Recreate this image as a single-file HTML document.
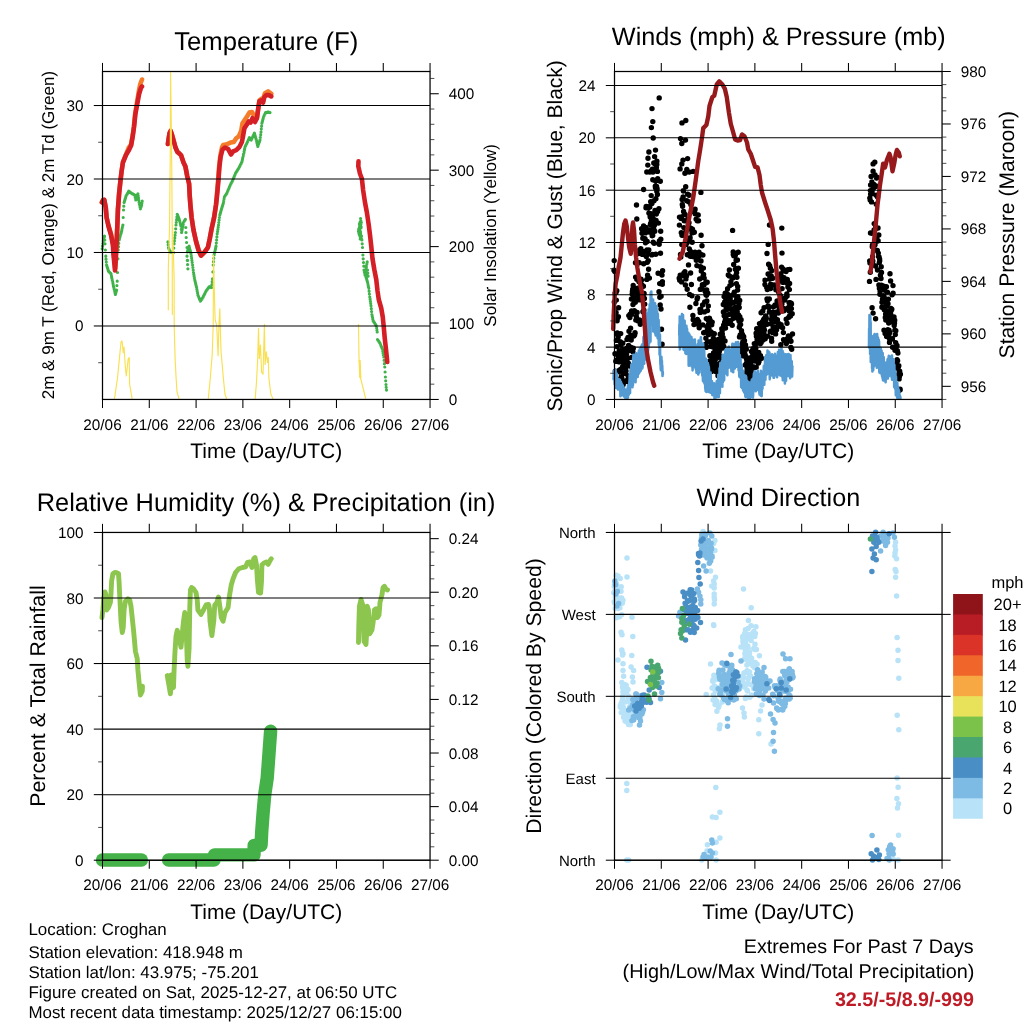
<!DOCTYPE html>
<html><head><meta charset="utf-8"><title>Croghan station</title>
<style>html,body{margin:0;padding:0;background:#fff;}svg{display:block;will-change:transform}text{font-family:"Liberation Sans",sans-serif;text-rendering:geometricPrecision;-webkit-font-smoothing:antialiased}</style>
</head><body>
<svg width="1024" height="1024" viewBox="0 0 1024 1024">
<clipPath id="c1"><rect x="102.5" y="71.5" width="327.55" height="327.95"/></clipPath>
<path d="M102.2 248.8h0M102.6 246.2h0M103.0 243.6h0M103.3 241.0h0M103.6 239.8h0M103.9 238.6h0M104.2 237.4h0M104.5 236.2h0M104.8 240.0h0M105.0 243.8h0M105.4 250.0h0M105.8 256.2h0M106.0 259.2h0M106.3 262.1h0M106.6 265.0h0M106.9 266.0h0M107.2 267.1h0M107.5 268.1h0M107.9 269.2h0M108.2 270.2h0M108.5 271.2h0M108.8 271.6h0M109.1 271.9h0M109.4 272.2h0M109.8 272.5h0M110.1 272.8h0M110.4 273.1h0M110.7 273.4h0M111.0 273.8h0M111.3 275.3h0M111.6 276.9h0M111.9 278.4h0M112.2 280.0h0M112.6 281.6h0M112.9 283.1h0M113.2 284.7h0M113.5 286.2h0M113.8 287.6h0M114.1 289.0h0M114.5 290.3h0M114.8 291.7h0M115.1 293.0h0M115.4 294.4h0M115.7 293.3h0M116.0 292.2h0M116.3 291.1h0M116.6 290.0h0M116.9 285.6h0M117.2 281.2h0M117.5 272.5h0M117.9 258.8h0M118.2 250.0h0M118.5 246.7h0M118.8 243.3h0M119.1 240.0h0M119.4 238.9h0M119.7 237.8h0M120.0 236.7h0M120.3 235.6h0M120.7 234.5h0M121.0 233.4h0M121.3 232.3h0M121.6 231.2h0M121.9 229.7h0M122.2 228.1h0M122.6 226.6h0M122.9 225.0h0M123.2 217.5h0M123.5 210.0h0M123.8 206.2h0M124.1 202.5h0M124.4 201.5h0M124.7 200.4h0M125.0 199.4h0M125.4 198.3h0M125.7 197.3h0M126.0 196.2h0M126.3 195.6h0M126.7 195.0h0M127.0 194.4h0M127.4 193.8h0M127.7 193.1h0M128.1 192.5h0M128.4 191.9h0M128.8 191.2h0M129.1 191.5h0M129.4 191.7h0M129.7 191.9h0M130.0 192.2h0M130.3 192.4h0M130.7 192.6h0M131.0 192.8h0M131.3 193.1h0M131.6 193.3h0M131.9 193.5h0M132.2 193.8h0M132.6 193.9h0M132.9 194.1h0M133.2 194.2h0M133.5 194.4h0M133.8 194.5h0M134.1 194.7h0M134.4 194.8h0M134.8 195.0h0M135.1 196.7h0M135.4 198.3h0M135.8 200.0h0M136.1 199.1h0M136.4 198.2h0M136.7 197.3h0M137.0 196.4h0M137.3 195.5h0M137.6 194.6h0M137.9 193.8h0M138.2 195.9h0M138.5 198.1h0M138.8 200.3h0M139.1 202.5h0M139.4 204.1h0M139.8 205.6h0M140.1 207.2h0M140.4 208.8h0M140.7 207.8h0M141.0 206.9h0M141.3 205.9h0M141.6 205.0h0M141.9 203.1h0M142.2 201.2h0" stroke="#3FB24A" stroke-width="3.2" stroke-linecap="round" fill="none"/>
<path d="M167.9 241.9h0M168.2 244.7h0M168.5 247.5h0M168.8 248.4h0M169.1 249.3h0M169.4 250.2h0M169.7 251.1h0M170.0 252.0h0M170.3 252.0h0M170.6 252.1h0M171.0 252.1h0M171.3 252.2h0M171.6 252.2h0M171.9 252.3h0M172.2 252.3h0M172.5 252.4h0M172.9 252.4h0M173.2 252.5h0M173.5 252.5h0M173.8 248.1h0M174.1 243.8h0M174.4 240.9h0M174.8 238.1h0M175.1 235.3h0M175.4 232.5h0M175.7 228.8h0M176.0 225.0h0M176.3 222.3h0M176.6 219.7h0M176.9 217.1h0M177.2 214.4h0M177.6 215.1h0M177.9 215.8h0M178.2 216.6h0M178.5 217.3h0M178.8 218.0h0M179.1 218.8h0M179.4 220.0h0M179.7 221.2h0M180.1 222.5h0M180.4 223.8h0M180.7 225.0h0M181.0 226.2h0M181.3 229.4h0M181.6 232.5h0M181.9 230.8h0M182.2 229.2h0M182.6 227.5h0M182.9 225.8h0M183.2 224.2h0M183.5 222.5h0M183.8 222.0h0M184.1 221.5h0M184.4 220.9h0M184.8 220.4h0M185.1 219.9h0M185.4 219.4h0M185.8 227.5h0M186.0 232.5h0M186.2 237.5h0M186.6 242.5h0M187.0 247.5h0M187.0 256.2h0M187.3 260.4h0M187.6 264.6h0M187.9 268.8h0M187.6 260.4h0M187.3 252.0h0M187.6 251.0h0M187.9 250.1h0M188.2 249.1h0M188.5 248.2h0M188.8 247.2h0M189.1 246.2h0M189.4 247.5h0M189.7 248.8h0M190.1 250.0h0M190.4 251.2h0M190.7 252.5h0M191.0 253.8h0M191.3 255.9h0M191.6 258.1h0M191.9 260.3h0M192.2 262.5h0M192.6 265.0h0M192.9 267.5h0M193.2 270.0h0M193.5 272.5h0M193.8 274.4h0M194.1 276.2h0M194.4 278.1h0M194.8 280.0h0M195.1 281.2h0M195.4 282.5h0M195.7 283.8h0M196.0 285.0h0M196.3 286.2h0M196.6 287.5h0M196.9 289.4h0M197.2 291.2h0M197.6 293.1h0M197.9 295.0h0M198.2 295.8h0M198.5 296.6h0M198.8 297.3h0M199.2 298.1h0M199.5 298.9h0M199.8 299.7h0M200.1 300.5h0M200.4 301.2h0M200.7 300.8h0M201.0 300.3h0M201.3 299.8h0M201.7 299.4h0M202.0 298.9h0M202.3 298.4h0M202.6 298.0h0M202.9 297.5h0M203.2 296.9h0M203.5 296.2h0M203.8 295.6h0M204.1 295.0h0M204.4 294.4h0M204.8 293.8h0M205.1 293.1h0M205.4 292.5h0M205.7 291.9h0M206.0 291.2h0M206.3 290.8h0M206.6 290.4h0M206.9 289.9h0M207.2 289.5h0M207.6 289.1h0M207.9 288.6h0M208.2 288.2h0M208.5 287.8h0M208.8 287.3h0M209.1 286.9h0M209.4 287.0h0M209.7 287.0h0M210.0 287.1h0M210.3 287.2h0M210.7 287.3h0M211.0 287.4h0M211.3 287.4h0M211.6 287.5h0M211.9 284.6h0M212.2 281.7h0M212.5 278.8h0M212.9 271.9h0M213.2 265.0h0M213.5 261.7h0M213.8 258.3h0M214.1 255.0h0M214.4 253.5h0M214.7 252.1h0M215.1 250.6h0M215.4 249.2h0M215.7 247.7h0M216.0 246.2h0M216.3 243.1h0M216.6 240.0h0M216.9 236.9h0M217.2 233.8h0M217.6 231.6h0M217.9 229.4h0M218.2 227.2h0M218.5 225.0h0M218.8 222.5h0M219.1 220.0h0M219.4 217.5h0M219.8 215.0h0M220.1 214.0h0M220.4 212.9h0M220.7 211.9h0M221.0 210.8h0M221.3 209.8h0M221.6 208.8h0M221.9 207.7h0M222.2 206.7h0M222.6 205.6h0M222.9 204.6h0M223.2 203.5h0M223.5 202.5h0M223.8 200.7h0M224.1 198.8h0M224.4 197.0h0M224.7 196.5h0M225.0 196.1h0M225.3 195.6h0M225.7 195.1h0M226.0 194.7h0M226.3 194.2h0M226.6 193.7h0M226.9 193.2h0M227.2 192.5h0M227.5 191.8h0M227.8 191.0h0M228.1 190.2h0M228.4 189.5h0M228.8 188.8h0M229.1 188.0h0M229.4 187.2h0M229.7 186.5h0M230.0 185.8h0M230.3 185.1h0M230.6 184.5h0M230.9 183.9h0M231.2 183.2h0M231.6 182.6h0M231.9 182.0h0M232.2 181.4h0M232.5 180.8h0M232.8 180.1h0M233.1 179.5h0M233.4 178.7h0M233.7 177.9h0M234.0 177.2h0M234.3 176.4h0M234.7 175.6h0M235.0 174.8h0M235.3 174.0h0M235.6 173.2h0M235.9 172.8h0M236.2 172.2h0M236.5 171.8h0M236.9 171.2h0M237.2 170.8h0M237.5 170.2h0M237.8 169.8h0M238.1 169.2h0M238.4 168.8h0M238.8 168.2h0M239.1 167.6h0M239.4 167.0h0M239.7 166.4h0M240.0 165.8h0M240.3 165.1h0M240.6 164.5h0M241.0 163.9h0M241.3 163.2h0M241.6 162.6h0M241.9 162.0h0M242.2 160.5h0M242.5 159.1h0M242.8 157.6h0M243.1 156.2h0M243.4 154.7h0M243.8 153.2h0M244.1 151.7h0M244.4 150.1h0M244.7 148.6h0M245.0 147.0h0M245.3 146.4h0M245.6 145.8h0M245.9 145.1h0M246.2 144.5h0M246.6 143.9h0M246.9 143.2h0M247.2 142.6h0M247.5 142.0h0M247.8 141.3h0M248.1 140.5h0M248.4 139.8h0M248.8 139.1h0M249.1 138.3h0M249.4 137.6h0M249.7 138.0h0M250.0 138.4h0M250.3 138.8h0M250.6 139.3h0M250.9 139.7h0M251.2 140.1h0M251.6 139.4h0M251.9 138.7h0M252.2 138.0h0M252.5 137.4h0M252.8 136.7h0M253.1 136.0h0M253.5 135.3h0M253.8 134.6h0M254.1 133.9h0M254.4 133.2h0M254.7 134.3h0M255.0 135.3h0M255.3 136.4h0M255.6 137.4h0M255.9 138.5h0M256.2 139.5h0M256.6 140.9h0M256.9 142.3h0M257.1 143.6h0M257.4 145.0h0M257.8 146.4h0M258.1 145.5h0M258.4 144.6h0M258.7 143.7h0M259.0 142.8h0M259.4 141.9h0M259.7 141.0h0M260.0 140.1h0M260.3 137.4h0M260.7 134.7h0M261.0 132.0h0M261.3 129.1h0M261.6 126.2h0M261.9 123.2h0M262.2 122.1h0M262.5 121.0h0M262.8 119.8h0M263.1 118.7h0M263.4 117.5h0M263.8 116.4h0M264.1 115.8h0M264.4 115.1h0M264.7 114.5h0M265.0 113.9h0M265.3 113.2h0M265.6 112.6h0M265.9 112.6h0M266.2 112.5h0M266.5 112.5h0M266.9 112.4h0M267.2 112.4h0M267.5 112.3h0M267.8 112.3h0M268.1 112.2h0M268.4 112.3h0M268.7 112.4h0M269.1 112.4h0M269.4 112.5h0M269.7 112.5h0M270.0 112.6h0" stroke="#3FB24A" stroke-width="3.2" stroke-linecap="round" fill="none"/>
<path d="M360.6 218.5h0M360.3 221.8h0M360.0 225.0h0M359.7 226.2h0M359.4 227.5h0M359.1 228.8h0M358.8 230.0h0M358.5 231.2h0M358.8 232.2h0M359.1 233.2h0M359.4 234.2h0M359.7 235.2h0M360.0 236.2h0M360.3 236.9h0M360.6 237.5h0M360.9 238.1h0M361.3 238.8h0M361.6 239.4h0M361.9 240.0h0M362.2 243.8h0M362.5 247.5h0M362.9 255.0h0M363.2 258.8h0M363.5 262.5h0M363.8 266.2h0M364.0 270.0h0M364.3 271.7h0M364.7 273.3h0M365.0 275.0h0M365.3 273.1h0M365.6 271.3h0M366.0 269.4h0M366.3 267.5h0M366.6 265.6h0M366.9 263.8h0M367.2 261.9h0M367.5 270.0h0M367.8 273.1h0M368.1 276.2h0M367.8 276.2h0M367.5 276.1h0M367.2 276.1h0M366.9 276.0h0M366.5 275.9h0M366.2 275.9h0M365.9 275.8h0M365.6 275.8h0M365.9 276.8h0M366.2 277.8h0M366.6 278.9h0M366.9 279.9h0M367.2 281.0h0M367.5 282.0h0M367.8 283.6h0M368.1 285.1h0M368.4 286.7h0M368.8 288.2h0M369.1 291.2h0M369.4 294.1h0M369.8 297.0h0M370.1 299.2h0M370.4 301.4h0M370.7 303.6h0M371.0 305.8h0M371.3 308.7h0M371.6 311.6h0M371.9 314.5h0M372.2 316.1h0M372.5 317.6h0M372.8 319.2h0M373.1 320.8h0M373.4 321.2h0M373.7 321.8h0M374.0 322.2h0M374.4 322.8h0M374.7 323.2h0M375.0 323.8h0M375.3 324.2h0M375.6 324.8h0M375.9 325.2h0M376.2 325.8h0M376.6 327.8h0M376.9 329.9h0M377.2 332.0h0M377.5 339.5h0M377.8 340.0h0M378.1 340.4h0M378.4 340.9h0M378.8 341.4h0M379.1 341.8h0M379.4 342.3h0M379.7 342.8h0M380.0 343.2h0M380.3 344.0h0M380.6 344.8h0M380.9 345.6h0M381.2 346.4h0M381.6 347.2h0M381.9 347.9h0M382.2 348.7h0M382.5 349.5h0M382.8 351.4h0M383.1 353.2h0M383.4 355.1h0M383.8 357.0h0M384.1 360.3h0M384.4 363.7h0M384.8 367.0h0M385.1 372.0h0M385.4 377.0h0M385.7 380.8h0M386.0 384.5h0M386.2 387.3h0M386.5 390.1h0" stroke="#3FB24A" stroke-width="3.2" stroke-linecap="round" fill="none"/>
<path d="M360.9 221.0h0M360.6 221.6h0M360.3 222.2h0M360.0 222.8h0M359.7 223.4h0M359.4 224.0h0M359.7 224.5h0M360.0 225.0h0M360.3 225.5h0M360.6 226.0h0M360.9 226.5h0M361.2 227.0h0M360.9 227.3h0M360.5 227.6h0M360.2 227.9h0M359.9 228.1h0M359.6 228.4h0M359.2 228.7h0M358.9 229.0h0M359.2 229.6h0M359.6 230.2h0M359.9 230.8h0M360.3 231.4h0M360.6 232.0h0M360.2 232.5h0M359.9 233.0h0M359.6 233.5h0M359.2 234.0h0M359.5 234.3h0M359.9 234.6h0M360.2 234.9h0M360.5 235.1h0M360.8 235.4h0M361.2 235.7h0M361.5 236.0h0M361.2 236.8h0M360.9 237.5h0M360.5 238.2h0M360.2 239.0h0M360.6 233.5h0M360.9 228.0h0M361.3 222.5h0M360.9 223.9h0M360.6 225.2h0M360.2 226.6h0M359.9 228.0h0" stroke="#3FB24A" stroke-width="3.2" stroke-linecap="round" fill="none"/>
<polyline points="101.90,202.30 103.20,200.00 104.30,199.90 105.75,207.50 106.60,217.50 108.50,225.50 111.00,234.00 112.90,243.00 113.80,253.00 114.70,263.00 115.20,268.50 115.80,260.00 116.20,250.00 116.60,242.50 117.25,227.50 117.90,210.00 119.10,193.75 120.40,181.25 121.60,171.25 122.90,162.50 126.00,154.50 128.75,147.60 131.00,144.50 132.70,135.25 133.90,126.50 135.10,114.00 136.90,103.00 138.70,92.00 140.30,84.00 142.00,79.50" fill="none" stroke="#F47B2A" stroke-width="4.6" stroke-linecap="round" stroke-linejoin="round" />
<polyline points="167.90,144.00 168.60,139.00 169.60,133.00 170.60,130.90 171.80,134.00 173.80,141.00 175.50,147.50 177.25,151.70 179.00,153.30 181.00,155.10 183.50,162.50 185.40,166.50 187.25,176.25 189.10,183.75 189.75,196.25 190.40,205.00 191.60,217.50 193.50,230.00 196.00,241.25 198.50,250.00 201.00,255.60 204.75,251.90 207.90,247.50 209.75,238.75 211.60,228.75 214.10,217.50 216.00,205.00 216.70,197.00 218.20,179.50 219.10,167.00 220.30,156.00 222.00,147.50 223.10,145.10 226.25,144.50 230.60,142.60 233.75,142.00 236.25,138.25 238.75,136.40 241.25,130.75 242.50,123.25 245.00,119.50 247.50,115.75 249.40,112.60 251.90,112.00 253.75,115.10 255.50,119.50 256.90,118.25 258.10,109.50 259.40,100.40 261.90,98.50 263.10,100.60 264.20,95.50 265.00,93.25 268.10,91.40 271.25,93.90" fill="none" stroke="#F47B2A" stroke-width="4.6" stroke-linecap="round" stroke-linejoin="round" />
<polyline points="101.90,202.30 103.20,200.00 104.30,199.90 105.75,207.50 106.60,217.50 108.50,226.25 111.00,235.00 112.90,245.00 113.50,255.00 114.50,265.00 115.00,270.50 115.60,262.00 116.00,252.50 116.60,242.50 117.25,227.50 117.90,210.00 119.10,193.75 120.40,181.25 121.60,171.25 122.90,162.50 126.00,155.00 129.10,149.80 131.20,145.25 132.90,135.25 134.10,126.50 135.40,114.00 137.25,104.00 139.10,94.00 141.00,87.75 142.00,86.50" fill="none" stroke="#D51F26" stroke-width="4.6" stroke-linecap="round" stroke-linejoin="round" />
<polyline points="167.90,144.00 168.60,139.00 169.60,133.00 170.60,130.90 171.60,133.50 173.50,140.25 175.50,147.50 177.25,151.70 179.00,153.30 181.00,155.10 183.50,162.50 185.40,166.50 187.25,176.25 189.10,183.75 189.75,196.25 190.40,205.00 191.60,217.50 193.50,230.00 196.00,241.25 198.50,250.00 201.00,255.60 204.75,251.90 207.90,247.50 209.75,238.75 211.60,228.75 214.10,217.50 216.00,205.00 216.90,197.00 218.50,179.50 219.40,167.00 220.60,157.00 222.50,149.50 225.00,147.60 228.10,148.90 231.00,154.50 233.10,151.40 236.25,150.10 239.40,147.00 241.90,142.00 243.10,135.75 244.40,128.25 246.90,124.50 248.75,121.40 250.60,122.60 252.50,118.25 255.00,122.00 256.90,118.25 258.10,109.50 259.40,101.40 261.90,100.10 263.10,102.60 264.40,97.00 266.25,95.10 268.75,95.10 271.25,96.40" fill="none" stroke="#D51F26" stroke-width="4.6" stroke-linecap="round" stroke-linejoin="round" />
<polyline points="358.50,161.25 358.30,166.25 360.00,173.75 361.90,178.75 363.10,190.00 365.00,202.50 366.90,212.50 368.75,225.00 370.00,235.00 371.25,246.25 372.50,258.75 374.40,270.00 376.25,279.50 377.50,290.75 378.75,299.50 381.25,308.25 382.75,317.00 383.75,327.00 384.75,338.25 386.00,349.50 386.90,358.25 387.25,362.00" fill="none" stroke="#D51F26" stroke-width="4.6" stroke-linecap="round" stroke-linejoin="round" />
<polyline points="114.50,398.60 117.50,378.00 119.40,358.60 121.00,342.00 122.00,341.00 123.30,352.70 124.00,347.00 125.30,366.40 126.30,376.00 128.20,358.60 129.20,357.60 129.60,384.00 132.10,398.60" fill="none" stroke="#F9E050" stroke-width="1.15" stroke-linecap="round" stroke-linejoin="round" />
<polyline points="168.30,309.80 168.30,270.00 169.50,228.00 170.30,150.00 170.60,72.50 171.20,120.00 171.80,170.00 172.20,225.00 172.30,314.60" fill="none" stroke="#F9E050" stroke-width="1.15" stroke-linecap="round" stroke-linejoin="round" />
<polyline points="172.50,225.00 173.30,250.00 174.10,277.00 174.20,325.00 175.10,358.60 176.10,378.00 177.00,391.80 179.00,398.60" fill="none" stroke="#F9E050" stroke-width="1.15" stroke-linecap="round" stroke-linejoin="round" />
<polyline points="208.30,398.60 210.30,378.00 212.20,354.70 213.20,325.40 213.50,255.00 214.30,290.00 215.10,319.50 216.70,325.40 218.10,355.70 219.00,323.40 219.80,308.80 221.00,350.80 223.00,374.20 224.90,393.75 226.50,398.60" fill="none" stroke="#F9E050" stroke-width="1.15" stroke-linecap="round" stroke-linejoin="round" />
<polyline points="255.20,398.60 256.50,382.00 257.70,358.60 258.50,328.30 259.30,358.60 260.50,345.00 261.60,372.30 263.00,374.20 264.40,324.40 265.10,364.50 266.30,351.80 267.50,362.50 268.30,357.60 268.90,378.10 270.80,393.75 272.80,398.60" fill="none" stroke="#F9E050" stroke-width="1.15" stroke-linecap="round" stroke-linejoin="round" />
<polyline points="358.50,324.25 359.00,358.25 360.00,367.00 360.60,378.25 363.10,388.25 365.60,398.25" fill="none" stroke="#F9E050" stroke-width="1.15" stroke-linecap="round" stroke-linejoin="round" />
<polyline points="359.6,360 360.3,378" fill="none" stroke="#F9E050" stroke-width="2.2"/>
<rect x="102.5" y="71.5" width="327.55" height="327.95" fill="none" stroke="#000" stroke-width="1.25"/>
<line x1="102.50" y1="71.50" x2="102.50" y2="62.90" stroke="#000" stroke-width="1.05"/>
<line x1="102.50" y1="399.45" x2="102.50" y2="408.05" stroke="#000" stroke-width="1.05"/>
<text x="102.50" y="429.55" font-size="15.3" text-anchor="middle" fill="#000">20/06</text>
<line x1="149.29" y1="71.50" x2="149.29" y2="62.90" stroke="#000" stroke-width="1.05"/>
<line x1="149.29" y1="399.45" x2="149.29" y2="408.05" stroke="#000" stroke-width="1.05"/>
<text x="149.29" y="429.55" font-size="15.3" text-anchor="middle" fill="#000">21/06</text>
<line x1="196.09" y1="71.50" x2="196.09" y2="62.90" stroke="#000" stroke-width="1.05"/>
<line x1="196.09" y1="399.45" x2="196.09" y2="408.05" stroke="#000" stroke-width="1.05"/>
<text x="196.09" y="429.55" font-size="15.3" text-anchor="middle" fill="#000">22/06</text>
<line x1="242.88" y1="71.50" x2="242.88" y2="62.90" stroke="#000" stroke-width="1.05"/>
<line x1="242.88" y1="399.45" x2="242.88" y2="408.05" stroke="#000" stroke-width="1.05"/>
<text x="242.88" y="429.55" font-size="15.3" text-anchor="middle" fill="#000">23/06</text>
<line x1="289.67" y1="71.50" x2="289.67" y2="62.90" stroke="#000" stroke-width="1.05"/>
<line x1="289.67" y1="399.45" x2="289.67" y2="408.05" stroke="#000" stroke-width="1.05"/>
<text x="289.67" y="429.55" font-size="15.3" text-anchor="middle" fill="#000">24/06</text>
<line x1="336.46" y1="71.50" x2="336.46" y2="62.90" stroke="#000" stroke-width="1.05"/>
<line x1="336.46" y1="399.45" x2="336.46" y2="408.05" stroke="#000" stroke-width="1.05"/>
<text x="336.46" y="429.55" font-size="15.3" text-anchor="middle" fill="#000">25/06</text>
<line x1="383.26" y1="71.50" x2="383.26" y2="62.90" stroke="#000" stroke-width="1.05"/>
<line x1="383.26" y1="399.45" x2="383.26" y2="408.05" stroke="#000" stroke-width="1.05"/>
<text x="383.26" y="429.55" font-size="15.3" text-anchor="middle" fill="#000">26/06</text>
<line x1="430.05" y1="71.50" x2="430.05" y2="62.90" stroke="#000" stroke-width="1.05"/>
<line x1="430.05" y1="399.45" x2="430.05" y2="408.05" stroke="#000" stroke-width="1.05"/>
<text x="430.05" y="429.55" font-size="15.3" text-anchor="middle" fill="#000">27/06</text>
<text x="266.27" y="458.35" font-size="21.0" text-anchor="middle" fill="#000">Time (Day/UTC)</text>
<line x1="98.20" y1="362.71" x2="102.50" y2="362.71" stroke="#222" stroke-width="0.8"/>
<line x1="98.20" y1="289.23" x2="102.50" y2="289.23" stroke="#222" stroke-width="0.8"/>
<line x1="98.20" y1="215.75" x2="102.50" y2="215.75" stroke="#222" stroke-width="0.8"/>
<line x1="98.20" y1="142.26" x2="102.50" y2="142.26" stroke="#222" stroke-width="0.8"/>
<line x1="93.80" y1="325.97" x2="102.50" y2="325.97" stroke="#000" stroke-width="1.05"/>
<line x1="102.50" y1="325.97" x2="430.05" y2="325.97" stroke="#000" stroke-width="1.05"/>
<text x="83.60" y="331.47" font-size="15.3" text-anchor="end" fill="#000">0</text>
<line x1="93.80" y1="252.49" x2="102.50" y2="252.49" stroke="#000" stroke-width="1.05"/>
<line x1="102.50" y1="252.49" x2="430.05" y2="252.49" stroke="#000" stroke-width="1.05"/>
<text x="83.60" y="257.99" font-size="15.3" text-anchor="end" fill="#000">10</text>
<line x1="93.80" y1="179.00" x2="102.50" y2="179.00" stroke="#000" stroke-width="1.05"/>
<line x1="102.50" y1="179.00" x2="430.05" y2="179.00" stroke="#000" stroke-width="1.05"/>
<text x="83.60" y="184.50" font-size="15.3" text-anchor="end" fill="#000">20</text>
<line x1="93.80" y1="105.52" x2="102.50" y2="105.52" stroke="#000" stroke-width="1.05"/>
<line x1="102.50" y1="105.52" x2="430.05" y2="105.52" stroke="#000" stroke-width="1.05"/>
<text x="83.60" y="111.02" font-size="15.3" text-anchor="end" fill="#000">30</text>
<line x1="430.05" y1="384.16" x2="434.35" y2="384.16" stroke="#222" stroke-width="0.8"/>
<line x1="430.05" y1="368.88" x2="434.35" y2="368.88" stroke="#222" stroke-width="0.8"/>
<line x1="430.05" y1="353.59" x2="434.35" y2="353.59" stroke="#222" stroke-width="0.8"/>
<line x1="430.05" y1="338.31" x2="434.35" y2="338.31" stroke="#222" stroke-width="0.8"/>
<line x1="430.05" y1="307.74" x2="434.35" y2="307.74" stroke="#222" stroke-width="0.8"/>
<line x1="430.05" y1="292.45" x2="434.35" y2="292.45" stroke="#222" stroke-width="0.8"/>
<line x1="430.05" y1="277.17" x2="434.35" y2="277.17" stroke="#222" stroke-width="0.8"/>
<line x1="430.05" y1="261.88" x2="434.35" y2="261.88" stroke="#222" stroke-width="0.8"/>
<line x1="430.05" y1="231.31" x2="434.35" y2="231.31" stroke="#222" stroke-width="0.8"/>
<line x1="430.05" y1="216.02" x2="434.35" y2="216.02" stroke="#222" stroke-width="0.8"/>
<line x1="430.05" y1="200.74" x2="434.35" y2="200.74" stroke="#222" stroke-width="0.8"/>
<line x1="430.05" y1="185.45" x2="434.35" y2="185.45" stroke="#222" stroke-width="0.8"/>
<line x1="430.05" y1="154.88" x2="434.35" y2="154.88" stroke="#222" stroke-width="0.8"/>
<line x1="430.05" y1="139.60" x2="434.35" y2="139.60" stroke="#222" stroke-width="0.8"/>
<line x1="430.05" y1="124.31" x2="434.35" y2="124.31" stroke="#222" stroke-width="0.8"/>
<line x1="430.05" y1="109.03" x2="434.35" y2="109.03" stroke="#222" stroke-width="0.8"/>
<line x1="430.05" y1="78.45" x2="434.35" y2="78.45" stroke="#222" stroke-width="0.8"/>
<line x1="430.05" y1="399.45" x2="438.75" y2="399.45" stroke="#000" stroke-width="1.05"/>
<text x="448.75" y="404.95" font-size="15.3" text-anchor="start" fill="#000">0</text>
<line x1="430.05" y1="323.02" x2="438.75" y2="323.02" stroke="#000" stroke-width="1.05"/>
<text x="448.75" y="328.52" font-size="15.3" text-anchor="start" fill="#000">100</text>
<line x1="430.05" y1="246.60" x2="438.75" y2="246.60" stroke="#000" stroke-width="1.05"/>
<text x="448.75" y="252.10" font-size="15.3" text-anchor="start" fill="#000">200</text>
<line x1="430.05" y1="170.17" x2="438.75" y2="170.17" stroke="#000" stroke-width="1.05"/>
<text x="448.75" y="175.67" font-size="15.3" text-anchor="start" fill="#000">300</text>
<line x1="430.05" y1="93.74" x2="438.75" y2="93.74" stroke="#000" stroke-width="1.05"/>
<text x="448.75" y="99.24" font-size="15.3" text-anchor="start" fill="#000">400</text>
<text x="266.27" y="50.20" font-size="25.7" text-anchor="middle" fill="#000">Temperature (F)</text>
<text x="53.80" y="235.10" font-size="17.05" text-anchor="middle" fill="#000" transform="rotate(-90 53.80 235.10)">2m &amp; 9m T (Red, Orange) &amp; 2m Td (Green)</text>
<text x="496.10" y="235.30" font-size="17.1" text-anchor="middle" fill="#000" transform="rotate(-90 496.10 235.30)">Solar Insolation (Yellow)</text>
<path d="M614.0 270.3h0M614.2 260.6h0M614.3 302.0h0M614.5 315.7h0M614.7 311.8h0M614.8 271.6h0M615.0 353.8h0M615.1 293.1h0M615.3 371.3h0M615.5 315.4h0M615.8 361.3h0M616.0 292.6h0M616.1 312.6h0M616.3 300.1h0M616.4 340.4h0M616.6 333.9h0M616.8 290.8h0M616.9 346.6h0M617.1 320.7h0M617.3 332.9h0M617.4 359.6h0M617.6 318.1h0M617.7 339.3h0M617.9 355.5h0M618.1 380.2h0M618.2 337.1h0M618.4 316.8h0M618.6 307.8h0M618.7 361.8h0M618.9 371.8h0M619.0 357.8h0M619.2 351.0h0M619.4 370.2h0M619.7 358.8h0M619.9 361.8h0M620.0 383.7h0M620.2 341.7h0M620.3 361.5h0M620.5 353.0h0M620.7 333.6h0M620.8 369.2h0M621.0 344.4h0M621.2 376.6h0M621.3 356.5h0M621.5 378.0h0M621.6 377.2h0M621.8 357.6h0M622.0 379.0h0M622.3 348.9h0M622.5 352.9h0M622.6 366.7h0M622.8 343.3h0M622.9 361.7h0M623.1 384.7h0M623.3 367.4h0M623.4 373.2h0M623.6 382.9h0M623.8 381.8h0M623.9 366.4h0M624.1 355.8h0M624.2 354.3h0M624.4 360.7h0M624.6 365.7h0M624.7 352.8h0M624.9 357.4h0M625.1 354.7h0M625.2 373.2h0M625.4 364.0h0M625.5 367.8h0M625.7 381.3h0M626.0 371.0h0M626.2 356.7h0M626.4 360.5h0M626.5 354.0h0M626.7 381.4h0M626.8 348.3h0M627.0 339.4h0M627.2 380.3h0M627.3 364.0h0M627.5 349.7h0M627.7 365.4h0M627.8 364.7h0M628.0 337.5h0M628.1 376.0h0M628.3 363.2h0M628.5 358.1h0M628.6 345.5h0M628.8 315.6h0M629.0 331.3h0M629.1 350.6h0M629.4 366.0h0M629.9 317.6h0M630.1 314.1h0M630.3 337.8h0M630.6 328.2h0M630.7 347.3h0M630.9 335.4h0M631.2 340.0h0M631.4 299.0h0M631.6 311.0h0M631.7 357.4h0M631.9 314.2h0M632.2 294.0h0M632.4 291.4h0M632.7 289.3h0M632.9 351.8h0M633.0 304.5h0M633.2 285.4h0M633.3 348.2h0M633.5 311.7h0M633.8 336.1h0M634.0 288.2h0M634.2 294.1h0M634.3 310.7h0M634.5 301.4h0M634.6 335.1h0M634.8 301.9h0M635.0 332.8h0M635.1 333.1h0M635.3 302.3h0M635.5 262.8h0M635.6 277.1h0M635.8 320.1h0M635.9 297.2h0M636.1 300.2h0M636.3 297.5h0M636.4 316.8h0M636.6 298.4h0M636.8 279.2h0M636.9 294.3h0M637.1 312.5h0M637.4 298.8h0M637.6 291.7h0M637.7 288.1h0M637.9 288.9h0M638.2 321.0h0M638.5 290.3h0M638.9 253.5h0M639.0 281.7h0M639.2 262.7h0M639.4 296.3h0M639.5 320.0h0M639.7 299.9h0M639.8 249.8h0M640.3 324.2h0M640.5 279.6h0M640.8 248.6h0M641.0 279.2h0M641.1 251.3h0M641.3 295.5h0M641.5 280.1h0M641.6 228.8h0M641.8 284.7h0M642.0 233.3h0M642.3 321.0h0M642.4 254.4h0M642.6 297.6h0M642.8 238.3h0M642.9 311.8h0M643.1 251.5h0M643.3 311.7h0M643.4 286.3h0M643.6 226.0h0M643.7 263.7h0M643.9 310.2h0M644.1 293.4h0M644.2 298.6h0M644.4 298.4h0M644.6 251.6h0M644.7 304.1h0M644.9 227.4h0M645.0 238.7h0M645.2 229.3h0M645.4 232.9h0M645.5 242.8h0M645.7 240.4h0M645.9 227.5h0M646.0 207.7h0M646.2 206.4h0M646.3 256.6h0M646.5 251.6h0M646.8 279.4h0M647.0 249.9h0M647.2 241.5h0M647.3 262.3h0M647.6 275.3h0M647.8 253.8h0M648.0 231.3h0M648.1 206.8h0M648.3 260.6h0M648.5 208.1h0M648.6 269.3h0M648.8 249.9h0M648.9 213.1h0M649.1 232.0h0M649.3 229.8h0M649.4 278.1h0M649.8 207.1h0M650.1 216.0h0M650.2 217.1h0M650.4 224.5h0M650.6 223.4h0M650.7 201.7h0M650.9 213.8h0M651.1 170.7h0M651.2 195.6h0M651.4 220.4h0M651.5 230.7h0M651.7 254.9h0M651.9 203.5h0M652.2 235.8h0M652.4 169.3h0M652.5 254.4h0M652.7 235.5h0M652.8 179.7h0M653.0 214.4h0M653.2 242.2h0M653.3 219.0h0M653.7 228.5h0M653.8 162.9h0M654.0 200.7h0M654.1 243.3h0M654.3 220.2h0M654.5 224.9h0M654.6 156.6h0M654.8 231.3h0M655.0 210.5h0M655.1 163.9h0M655.3 186.3h0M655.5 187.7h0M655.6 181.1h0M655.8 254.3h0M655.9 198.8h0M656.1 220.5h0M656.3 214.1h0M656.4 167.6h0M656.6 186.5h0M656.8 191.2h0M656.9 161.2h0M657.1 188.7h0M657.2 222.9h0M657.4 194.5h0M657.6 211.6h0M657.7 178.6h0M658.1 273.3h0M658.4 223.1h0M658.9 208.7h0M659.0 291.8h0M659.2 244.2h0M659.4 240.9h0M659.7 283.6h0M659.8 297.2h0M660.2 304.9h0M660.3 181.3h0M660.5 253.2h0M660.7 231.3h0M660.8 239.3h0M661.0 309.0h0M661.1 296.2h0M661.5 329.3h0M662.0 275.1h0M662.1 344.2h0M662.3 284.2h0M662.4 281.6h0M662.6 270.8h0M679.2 278.3h0M679.4 225.1h0M679.5 217.1h0M679.7 280.2h0M680.2 275.2h0M680.5 254.4h0M680.7 255.3h0M680.8 256.9h0M681.0 218.4h0M681.2 276.0h0M681.3 232.8h0M681.5 217.0h0M681.6 281.9h0M681.8 244.6h0M682.0 235.2h0M682.1 199.5h0M682.3 204.4h0M682.6 206.2h0M683.1 196.9h0M683.3 190.8h0M683.4 191.0h0M683.6 211.5h0M683.8 273.1h0M683.9 227.6h0M684.1 235.2h0M684.2 220.8h0M684.4 214.4h0M684.7 234.8h0M684.9 271.7h0M685.1 214.5h0M685.2 228.3h0M685.4 285.0h0M685.5 274.9h0M685.7 186.7h0M685.9 278.9h0M686.0 244.6h0M686.2 230.8h0M686.5 276.0h0M686.8 200.7h0M687.0 242.8h0M687.2 289.3h0M687.3 254.7h0M687.5 240.8h0M687.7 194.2h0M687.8 219.2h0M688.1 228.5h0M688.3 223.4h0M688.5 264.9h0M688.6 201.8h0M688.8 254.9h0M689.0 222.8h0M689.1 195.2h0M689.3 249.0h0M689.6 294.4h0M689.8 227.6h0M689.9 307.2h0M690.1 237.7h0M690.3 256.2h0M690.4 251.1h0M690.6 273.0h0M690.9 204.7h0M691.1 254.1h0M691.2 228.4h0M691.4 284.5h0M691.6 229.9h0M691.9 295.8h0M692.0 232.9h0M692.2 242.3h0M692.5 229.2h0M692.7 256.5h0M692.9 315.5h0M693.0 254.7h0M693.2 319.8h0M693.3 211.6h0M693.5 255.5h0M694.0 324.6h0M694.3 232.3h0M694.6 211.8h0M694.8 256.9h0M695.0 252.2h0M695.1 209.2h0M695.3 255.3h0M695.6 322.5h0M695.8 257.2h0M695.9 303.5h0M696.1 219.1h0M696.3 260.2h0M696.6 260.1h0M696.9 265.6h0M697.1 298.9h0M697.2 220.8h0M697.4 319.5h0M697.6 297.6h0M697.9 253.5h0M698.2 253.2h0M698.4 259.9h0M698.5 220.7h0M698.7 321.4h0M698.9 325.3h0M699.0 252.2h0M699.2 327.7h0M699.5 255.6h0M699.7 279.0h0M700.0 309.4h0M700.2 312.4h0M700.3 289.4h0M700.5 266.8h0M700.7 309.4h0M700.8 254.4h0M701.0 261.0h0M701.1 235.3h0M701.3 271.0h0M702.0 245.8h0M702.1 288.8h0M702.3 286.3h0M702.4 284.6h0M702.6 305.0h0M702.8 324.9h0M702.9 255.1h0M703.1 275.9h0M703.3 284.8h0M703.4 268.1h0M703.6 274.5h0M703.7 332.8h0M703.9 285.0h0M704.1 346.6h0M704.2 278.1h0M704.4 311.9h0M704.7 302.0h0M704.9 332.1h0M705.2 291.6h0M705.4 283.2h0M705.7 344.1h0M705.9 338.3h0M706.0 294.8h0M706.2 347.4h0M706.3 318.6h0M706.5 295.2h0M706.7 289.9h0M706.8 301.0h0M707.0 326.7h0M707.2 282.3h0M707.3 330.7h0M707.5 310.6h0M707.6 341.6h0M707.8 293.2h0M708.0 319.9h0M708.1 333.3h0M708.3 306.0h0M708.5 324.4h0M708.6 319.2h0M708.9 334.5h0M709.1 329.5h0M709.3 366.3h0M709.4 318.3h0M709.6 320.1h0M709.8 361.0h0M709.9 355.7h0M710.1 360.7h0M710.2 320.3h0M710.4 341.6h0M710.6 364.3h0M710.7 346.4h0M710.9 341.9h0M711.1 331.9h0M711.2 367.5h0M711.4 343.6h0M711.5 371.6h0M711.7 324.8h0M712.2 322.1h0M712.5 370.3h0M712.7 365.7h0M712.8 363.8h0M713.0 347.0h0M713.2 367.7h0M713.3 338.3h0M713.5 352.9h0M713.7 334.3h0M713.8 363.9h0M714.1 357.6h0M714.3 333.8h0M714.5 339.7h0M714.6 359.4h0M714.8 351.6h0M715.0 362.1h0M715.1 365.8h0M715.3 359.6h0M715.4 365.3h0M715.6 351.6h0M715.8 371.5h0M715.9 348.4h0M716.1 344.6h0M716.3 358.2h0M716.4 358.3h0M716.6 340.4h0M716.7 342.3h0M716.9 368.7h0M717.1 340.4h0M717.2 354.5h0M717.6 370.8h0M717.9 368.0h0M718.0 375.8h0M718.2 374.2h0M718.5 365.1h0M718.9 348.6h0M719.0 339.3h0M719.3 364.1h0M719.5 350.9h0M719.8 340.2h0M720.0 341.8h0M720.2 334.3h0M720.3 365.7h0M720.5 362.7h0M720.7 356.0h0M720.8 344.4h0M721.0 338.0h0M721.1 343.4h0M721.3 358.0h0M721.5 363.6h0M721.6 335.7h0M721.8 328.8h0M722.1 331.5h0M722.3 333.9h0M722.4 344.8h0M722.6 348.1h0M722.8 338.0h0M723.1 337.4h0M723.3 304.5h0M723.4 311.9h0M723.6 325.1h0M723.7 346.2h0M723.9 311.6h0M724.1 296.6h0M724.2 315.7h0M724.4 314.3h0M724.6 322.2h0M724.7 302.0h0M724.9 315.5h0M725.0 341.0h0M725.2 293.3h0M725.4 319.3h0M725.5 328.0h0M725.7 299.6h0M725.9 318.3h0M726.0 303.9h0M726.2 308.4h0M726.5 295.9h0M726.8 309.5h0M727.0 293.5h0M727.2 323.2h0M727.3 308.9h0M727.6 288.7h0M727.8 305.6h0M728.0 323.4h0M728.1 294.6h0M728.3 274.9h0M728.6 314.6h0M728.8 323.4h0M728.9 300.8h0M729.1 299.7h0M729.3 275.9h0M729.4 269.9h0M729.6 314.1h0M729.8 320.7h0M729.9 285.6h0M730.1 295.6h0M730.2 298.4h0M730.4 304.3h0M730.7 320.7h0M730.9 281.6h0M731.1 309.3h0M731.4 284.5h0M731.7 277.1h0M732.0 302.6h0M732.2 325.2h0M732.4 312.9h0M732.5 313.9h0M732.7 302.9h0M732.8 278.0h0M733.0 294.8h0M733.2 316.9h0M733.3 254.4h0M733.5 318.3h0M733.7 264.4h0M733.8 255.7h0M734.0 295.1h0M734.1 302.2h0M734.3 292.2h0M734.5 308.3h0M734.6 314.3h0M734.8 312.2h0M735.3 269.3h0M735.4 255.0h0M735.6 307.2h0M735.8 308.1h0M735.9 275.2h0M736.1 260.4h0M736.3 269.0h0M736.4 283.8h0M736.6 272.8h0M736.7 299.3h0M736.9 277.3h0M737.2 311.8h0M737.4 260.0h0M737.6 290.1h0M737.7 286.5h0M737.9 296.7h0M738.0 318.4h0M738.2 316.4h0M738.4 268.2h0M738.5 314.9h0M738.9 303.6h0M739.0 320.9h0M739.2 307.5h0M739.3 327.3h0M739.5 336.9h0M739.7 300.4h0M739.8 316.7h0M740.0 324.5h0M740.2 335.0h0M740.3 337.0h0M740.5 320.4h0M740.6 324.6h0M741.0 350.0h0M741.1 319.8h0M741.3 352.6h0M741.5 330.7h0M741.8 336.1h0M741.9 348.3h0M742.1 344.3h0M742.3 334.1h0M742.4 355.7h0M742.6 351.6h0M742.8 341.9h0M742.9 346.9h0M743.1 344.8h0M743.4 336.1h0M743.6 355.9h0M743.7 336.8h0M743.9 342.3h0M744.1 352.6h0M744.2 348.0h0M744.4 373.1h0M744.5 340.6h0M744.9 353.9h0M745.2 365.1h0M745.4 348.2h0M745.5 345.0h0M745.7 356.3h0M745.8 357.1h0M746.0 365.4h0M746.2 363.8h0M746.3 349.3h0M746.5 359.1h0M746.7 375.0h0M746.8 363.7h0M747.0 360.9h0M747.1 369.0h0M747.5 369.0h0M747.6 368.7h0M747.8 363.9h0M748.0 367.9h0M748.1 364.0h0M748.3 371.2h0M748.4 360.1h0M748.6 366.1h0M748.8 365.2h0M748.9 379.0h0M749.1 370.5h0M749.3 365.2h0M749.4 380.4h0M749.6 368.3h0M749.7 374.3h0M750.1 358.0h0M750.2 367.9h0M750.4 367.0h0M750.6 374.4h0M750.7 364.4h0M751.0 369.0h0M751.2 370.9h0M751.4 377.7h0M751.5 351.5h0M751.7 361.3h0M751.9 361.3h0M752.0 366.9h0M752.2 356.1h0M752.3 367.4h0M752.7 353.1h0M752.8 357.8h0M753.0 348.8h0M753.2 368.1h0M753.3 358.3h0M753.5 350.5h0M753.8 360.9h0M754.0 366.9h0M754.1 350.8h0M754.3 343.6h0M754.5 351.8h0M754.6 348.2h0M754.8 347.1h0M754.9 343.7h0M755.1 361.0h0M755.3 345.1h0M755.4 352.7h0M755.6 356.7h0M755.8 348.1h0M756.1 333.3h0M756.2 367.3h0M756.4 336.2h0M756.6 354.3h0M756.7 328.7h0M757.1 339.8h0M757.2 334.2h0M757.4 358.9h0M757.5 333.9h0M757.9 333.8h0M758.2 357.6h0M758.4 363.1h0M758.5 359.9h0M758.7 352.5h0M758.8 354.5h0M759.0 361.4h0M759.2 335.4h0M759.3 328.6h0M759.5 323.6h0M759.7 328.0h0M759.8 343.0h0M760.0 358.6h0M760.1 357.1h0M760.3 343.7h0M760.5 355.8h0M760.6 337.2h0M761.0 342.5h0M761.1 312.7h0M761.3 342.6h0M761.6 358.2h0M761.8 331.6h0M762.1 339.3h0M762.3 321.9h0M762.4 322.1h0M762.6 327.0h0M762.8 310.9h0M762.9 321.3h0M763.1 340.0h0M763.2 339.1h0M763.4 320.9h0M763.6 319.8h0M763.9 333.0h0M764.1 307.6h0M764.2 318.7h0M764.4 330.0h0M764.5 325.6h0M764.9 284.6h0M765.0 280.2h0M765.2 338.7h0M765.4 319.3h0M765.5 337.3h0M765.7 315.9h0M765.8 320.5h0M766.0 319.1h0M766.2 317.7h0M766.3 324.1h0M766.5 287.1h0M766.7 324.3h0M767.0 299.0h0M767.1 324.2h0M767.3 289.6h0M767.5 300.7h0M767.6 300.6h0M767.8 336.1h0M768.0 306.0h0M768.1 273.9h0M768.3 305.9h0M768.6 264.2h0M768.8 307.6h0M769.3 299.0h0M769.4 312.0h0M769.6 279.1h0M769.7 265.6h0M769.9 276.9h0M770.2 331.4h0M770.4 268.2h0M770.6 288.5h0M770.7 284.2h0M770.9 323.8h0M771.0 330.9h0M771.2 276.0h0M771.4 319.2h0M771.5 338.3h0M771.7 341.3h0M771.9 270.6h0M772.0 315.8h0M772.2 277.7h0M772.3 321.8h0M772.5 332.4h0M772.7 278.2h0M772.8 312.2h0M773.0 318.7h0M773.2 327.3h0M773.3 317.0h0M773.5 306.7h0M773.6 326.7h0M774.0 313.6h0M774.1 285.0h0M774.5 329.7h0M774.6 316.6h0M775.1 304.9h0M775.3 333.5h0M775.4 321.6h0M775.6 333.9h0M775.9 289.7h0M776.1 312.3h0M776.2 329.0h0M776.6 329.8h0M777.1 301.0h0M777.4 319.8h0M777.7 284.5h0M777.9 326.7h0M778.0 323.1h0M778.4 313.1h0M778.5 306.3h0M778.7 292.2h0M778.8 325.5h0M779.0 276.5h0M779.2 323.6h0M779.3 309.1h0M779.8 302.8h0M780.0 280.7h0M780.1 280.0h0M780.3 295.5h0M780.5 298.5h0M780.6 277.4h0M780.8 344.7h0M781.0 273.6h0M781.1 324.6h0M781.3 309.5h0M781.4 305.0h0M781.6 267.1h0M781.9 304.1h0M782.1 288.6h0M782.3 301.0h0M782.6 327.7h0M782.9 268.8h0M783.1 282.4h0M783.2 270.4h0M783.4 332.6h0M783.6 339.8h0M783.9 310.7h0M784.0 277.6h0M784.4 308.7h0M784.5 340.8h0M784.7 300.0h0M784.9 281.5h0M785.3 270.5h0M785.5 297.4h0M786.0 271.6h0M786.2 319.2h0M786.3 343.6h0M786.5 280.9h0M786.6 339.2h0M786.8 293.9h0M787.0 323.2h0M787.1 295.9h0M787.3 279.4h0M787.5 283.4h0M787.6 281.2h0M787.8 269.7h0M787.9 286.9h0M788.1 338.9h0M788.3 339.7h0M788.4 336.0h0M788.6 307.4h0M788.8 340.0h0M788.9 317.3h0M789.1 302.7h0M789.2 311.1h0M789.4 289.6h0M789.6 283.4h0M789.7 315.6h0M789.9 337.3h0M790.1 310.9h0M790.2 302.8h0M790.4 307.6h0M790.5 316.1h0M790.7 341.3h0M790.9 347.4h0M791.0 341.3h0M791.2 303.1h0M791.4 308.6h0M791.5 303.9h0M791.7 349.3h0M792.2 313.7h0M792.5 334.0h0M869.5 281.4h0M869.7 260.9h0M869.8 198.1h0M870.0 262.9h0M870.2 200.0h0M870.3 272.2h0M870.5 232.9h0M870.6 194.3h0M871.1 176.4h0M871.3 233.1h0M871.5 201.9h0M871.6 233.3h0M872.1 192.0h0M872.3 246.7h0M872.4 245.3h0M872.6 256.7h0M872.8 260.9h0M873.1 163.9h0M873.4 265.0h0M873.6 187.9h0M873.9 184.4h0M874.1 229.9h0M874.2 223.6h0M874.4 223.7h0M874.5 244.4h0M875.0 244.8h0M875.2 250.0h0M875.4 266.0h0M875.7 226.8h0M875.8 228.8h0M876.0 279.4h0M876.2 195.3h0M876.3 204.3h0M876.7 186.3h0M877.0 177.3h0M877.1 236.6h0M877.3 250.4h0M877.5 270.0h0M877.6 196.9h0M877.8 241.0h0M878.0 228.0h0M878.1 240.8h0M878.3 253.1h0M878.6 256.4h0M878.8 235.0h0M878.9 284.9h0M879.1 257.0h0M879.3 262.6h0M879.4 288.3h0M879.6 258.9h0M879.7 260.8h0M879.9 294.2h0M880.1 291.0h0M880.2 288.5h0M880.4 275.3h0M880.9 278.6h0M881.0 278.4h0M881.2 266.8h0M881.4 285.1h0M881.5 272.5h0M881.9 307.2h0M882.0 302.3h0M882.5 299.1h0M882.7 302.1h0M882.8 298.1h0M883.2 289.7h0M883.3 299.1h0M883.6 295.7h0M883.8 286.3h0M884.0 330.2h0M884.1 297.0h0M884.3 309.8h0M884.5 290.1h0M884.6 301.8h0M884.8 302.6h0M884.9 290.2h0M885.1 333.4h0M885.3 317.4h0M885.4 299.0h0M885.6 313.9h0M885.8 320.1h0M885.9 306.5h0M886.1 301.2h0M886.2 311.0h0M886.4 286.8h0M886.6 336.5h0M886.7 318.5h0M886.9 306.2h0M887.2 331.2h0M887.4 292.1h0M887.5 315.3h0M887.7 313.0h0M887.9 329.6h0M888.0 303.8h0M888.4 299.1h0M888.5 311.6h0M888.7 323.0h0M888.8 335.6h0M889.0 330.3h0M889.2 331.6h0M889.3 333.4h0M889.5 342.4h0M889.7 339.3h0M889.8 332.3h0M890.0 318.5h0M890.3 315.4h0M890.5 339.8h0M890.6 313.5h0M890.8 317.3h0M891.0 308.5h0M891.1 320.7h0M891.3 310.3h0M891.4 338.6h0M891.6 316.9h0M891.8 309.3h0M891.9 321.9h0M892.1 294.8h0M892.4 338.8h0M892.6 347.3h0M892.7 317.1h0M893.1 293.3h0M893.2 320.4h0M893.6 322.1h0M893.9 321.7h0M894.0 316.9h0M894.2 325.4h0M894.4 348.0h0M894.5 323.3h0M894.7 320.2h0M894.9 330.1h0M895.0 350.3h0M895.3 334.6h0M895.5 363.9h0M895.7 342.6h0M895.8 330.8h0M896.0 368.7h0M896.2 349.4h0M896.3 366.9h0M896.5 364.6h0M897.0 345.4h0M897.1 359.6h0M897.3 350.8h0M897.5 366.2h0M897.6 360.7h0M897.9 353.0h0M898.1 377.4h0M898.3 375.1h0M898.4 366.7h0M898.6 374.2h0M898.8 365.8h0M898.9 375.6h0M899.1 378.9h0M899.2 390.4h0M899.4 376.6h0M899.6 371.2h0M899.7 371.2h0M899.9 374.3h0M900.1 389.2h0M900.2 389.7h0M900.4 374.3h0M659.2 97.9h0M652.0 108.6h0M652.8 121.6h0M651.4 127.6h0M653.2 138.0h0M655.5 150.1h0M648.9 152.0h0M648.0 158.2h0M647.8 165.1h0M656.8 164.5h0M646.8 172.0h0M649.9 172.0h0M653.0 172.0h0M657.4 171.4h0M643.6 189.5h0M636.5 205.0h0M636.8 219.0h0M685.8 120.5h0M682.0 122.9h0M680.5 138.6h0M685.5 140.1h0M681.8 143.5h0M687.6 158.6h0M683.0 160.1h0M681.8 163.9h0M680.1 168.9h0M686.8 169.5h0M689.2 172.0h0M684.9 173.2h0M693.2 171.4h0M700.9 192.4h0M695.1 213.8h0M698.2 215.0h0M732.6 230.4h0M733.2 251.9h0M738.2 252.2h0M769.5 225.0h0M781.8 228.1h0M768.2 244.4h0M767.0 253.5h0M782.0 253.1h0M789.8 269.4h0M874.8 162.2h0M873.1 171.2h0M875.0 175.0h0M876.6 178.1h0M871.9 181.9h0M870.6 185.0h0M870.4 190.6h0M872.2 193.8h0M890.0 273.8h0M890.6 281.0h0M893.0 285.6h0M872.1 307.8h0M873.1 313.1h0M875.6 318.8h0" stroke="#000" stroke-width="5.4" stroke-linecap="round" fill="none"/>
<polyline points="613.60,379.17 613.76,372.49 613.93,379.28 614.09,373.34 614.25,370.80 614.41,372.36 614.58,370.00 614.74,384.28 614.90,379.34 615.06,374.47 615.23,376.71 615.39,375.60 615.55,369.75 615.71,386.50 615.88,381.00 616.04,387.92 616.20,378.24 616.36,382.70 616.53,375.86 616.69,373.43 616.85,388.17 617.01,387.31 617.18,378.98 617.34,388.21 617.50,387.32 617.66,379.69 617.83,384.67 617.99,389.39 618.15,382.95 618.31,389.48 618.48,379.33 618.64,381.44 618.80,386.89 618.96,379.31 619.13,380.56 619.29,389.37 619.45,383.88 619.61,389.67 619.78,380.53 619.94,379.76 620.10,383.40 620.26,381.15 620.43,396.15 620.59,383.98 620.75,389.92 620.91,382.13 621.08,389.90 621.24,387.16 621.40,387.82 621.56,383.50 621.73,384.74 621.89,395.29 622.05,388.18 622.22,386.98 622.38,386.53 622.54,387.89 622.70,387.53 622.87,385.46 623.03,393.99 623.19,389.42 623.35,387.50 623.52,394.82 623.68,387.31 623.84,389.40 624.00,396.50 624.17,388.39 624.33,391.94 624.49,396.74 624.65,396.50 624.82,389.27 624.98,391.34 625.14,395.91 625.30,391.83 625.47,398.24 625.63,390.39 625.79,398.29 625.95,393.89 626.12,390.94 626.28,393.33 626.44,390.35 626.60,396.32 626.77,390.79 626.93,398.10 627.09,394.47 627.25,390.76 627.42,388.75 627.58,394.17 627.74,387.35 627.90,397.70 628.07,385.04 628.23,391.28 628.39,391.51 628.55,385.62 628.72,394.75 628.88,385.97 629.04,391.68 629.20,389.14 629.37,381.76 629.53,382.67 629.69,375.00 629.85,375.87 630.02,393.10 630.18,377.38 630.34,387.49 630.51,369.95 630.67,383.26 630.83,375.28 630.99,379.54 631.16,371.92 631.32,364.83 631.48,370.88 631.64,367.65 631.81,364.05 631.97,383.29 632.13,367.05 632.29,370.26 632.46,387.28 632.62,382.80 632.78,385.49 632.94,384.32 633.11,358.24 633.27,362.47 633.43,354.69 633.59,377.58 633.76,376.80 633.92,363.95 634.08,365.90 634.24,375.95 634.41,377.07 634.57,359.50 634.73,381.32 634.89,362.46 635.06,373.84 635.22,356.96 635.38,355.02 635.54,382.32 635.71,376.82 635.87,376.01 636.03,353.20 636.19,353.28 636.36,356.74 636.52,357.82 636.68,360.92 636.84,363.28 637.01,353.69 637.17,361.03 637.33,372.09 637.49,357.44 637.66,376.90 637.82,369.33 637.98,373.14 638.14,358.91 638.31,363.36 638.47,370.97 638.63,359.95 638.80,350.94 638.96,373.42 639.12,371.55 639.28,356.40 639.45,349.96 639.61,372.14 639.77,365.24 639.93,348.60 640.10,352.94 640.26,349.15 640.42,368.38 640.58,350.70 640.75,370.69 640.91,366.25 641.07,346.57 641.23,364.13 641.40,353.91 641.56,364.87 641.72,366.61 641.88,349.72 642.05,344.52 642.21,368.51 642.37,352.74 642.53,367.46 642.70,361.03 642.86,361.84 643.02,363.80 643.18,357.53 643.35,350.00 643.51,336.98 643.67,358.01 643.83,346.69 644.00,349.86 644.16,363.72 644.32,333.78 644.48,357.13 644.65,328.93 644.81,353.52 644.97,356.15 645.13,329.77 645.30,341.68 645.46,359.52 645.62,343.66 645.78,338.09 645.95,321.13 646.11,312.63 646.27,325.69 646.44,328.15 646.60,318.07 646.76,322.72 646.92,314.92 647.09,343.37 647.25,341.35 647.41,318.58 647.57,318.52 647.74,332.41 647.90,327.49 648.06,350.65 648.22,321.58 648.39,318.28 648.55,347.83 648.71,309.25 648.87,331.50 649.04,316.40 649.20,343.52 649.36,328.80 649.52,340.10 649.69,304.30 649.85,334.22 650.01,329.56 650.17,317.95 650.34,338.22 650.50,341.46 650.66,292.62 650.82,300.87 650.99,304.77 651.15,297.08 651.31,291.52 651.47,302.92 651.64,300.40 651.80,324.56 651.96,313.05 652.12,300.96 652.29,308.41 652.45,314.18 652.61,309.98 652.77,303.65 652.94,301.00 653.10,299.55 653.26,331.40 653.42,324.23 653.59,302.43 653.75,323.41 653.91,331.21 654.07,319.42 654.24,304.47 654.40,316.97 654.56,315.19 654.73,307.77 654.89,320.83 655.05,303.23 655.21,333.74 655.38,325.79 655.54,325.62 655.70,335.41 655.86,326.98 656.03,312.08 656.19,312.19 656.35,309.22 656.51,306.30 656.68,332.14 656.84,334.35 657.00,315.13 657.16,311.99 657.33,328.79 657.49,335.58 657.65,338.18 657.81,314.11 657.98,334.93 658.14,337.79 658.30,337.01 658.46,323.24 658.63,319.97 658.79,344.86 658.95,326.83 659.11,329.89 659.28,340.12 659.44,334.61 659.60,354.68 659.76,336.80 659.93,334.73 660.09,353.11 660.25,357.02 660.41,364.13 660.58,362.72 660.74,368.41 660.90,370.03 661.06,360.80 661.23,362.35 661.39,356.76 661.55,360.83 661.71,367.97 661.88,360.83 662.04,371.76 662.20,365.29 662.36,369.89 662.53,376.02 662.69,371.64 662.85,374.36" fill="none" stroke="#559BD3" stroke-width="2.6" stroke-linecap="round" stroke-linejoin="round" />
<polyline points="679.25,334.92 679.41,324.53 679.58,346.47 679.74,316.57 679.90,349.37 680.06,349.20 680.23,346.08 680.39,329.19 680.55,322.67 680.71,339.26 680.88,331.94 681.04,326.08 681.20,321.87 681.36,325.43 681.53,336.39 681.69,342.57 681.85,345.61 682.01,313.97 682.18,319.57 682.34,326.32 682.50,333.29 682.66,323.26 682.83,318.18 682.99,315.08 683.15,323.92 683.31,329.88 683.48,349.49 683.64,347.72 683.80,346.57 683.96,350.02 684.13,349.80 684.29,339.38 684.45,345.75 684.61,320.86 684.78,342.68 684.94,341.04 685.10,329.77 685.26,340.91 685.43,353.15 685.59,338.08 685.75,345.32 685.91,332.77 686.08,334.57 686.24,354.05 686.40,325.88 686.56,330.90 686.73,349.31 686.89,340.35 687.05,328.89 687.21,350.49 687.38,339.06 687.54,348.96 687.70,341.84 687.87,348.10 688.03,350.32 688.19,342.67 688.35,332.82 688.52,335.52 688.68,365.58 688.84,352.88 689.00,334.22 689.17,365.81 689.33,339.91 689.49,334.50 689.65,352.93 689.82,340.60 689.98,350.70 690.14,354.46 690.30,340.47 690.47,355.54 690.63,337.18 690.79,353.06 690.95,356.53 691.12,336.82 691.28,348.29 691.44,337.03 691.60,349.84 691.77,366.40 691.93,355.53 692.09,361.65 692.25,363.10 692.42,339.55 692.58,370.33 692.74,361.86 692.90,339.73 693.07,364.69 693.23,348.87 693.39,342.18 693.55,367.34 693.72,355.56 693.88,361.77 694.04,341.78 694.20,361.26 694.37,340.04 694.53,344.61 694.69,348.63 694.85,339.52 695.02,357.46 695.18,345.08 695.34,347.85 695.50,362.58 695.67,352.61 695.83,369.10 695.99,361.49 696.16,369.96 696.32,360.40 696.48,372.67 696.64,371.93 696.81,346.32 696.97,369.13 697.13,352.40 697.29,369.55 697.46,366.48 697.62,371.28 697.78,344.13 697.94,352.59 698.11,367.77 698.27,374.55 698.43,366.88 698.59,340.54 698.76,362.15 698.92,341.91 699.08,359.50 699.24,368.81 699.41,341.71 699.57,372.51 699.73,363.79 699.89,345.86 700.06,343.54 700.22,352.85 700.38,368.80 700.54,359.23 700.71,340.03 700.87,337.21 701.03,340.50 701.19,368.76 701.36,343.81 701.52,360.26 701.68,348.42 701.84,366.88 702.01,352.89 702.17,344.23 702.33,375.65 702.49,362.56 702.66,369.83 702.82,375.11 702.98,380.85 703.14,343.53 703.31,356.47 703.47,350.11 703.63,365.85 703.79,382.04 703.96,380.26 704.12,349.64 704.28,355.66 704.45,383.39 704.61,379.05 704.77,366.35 704.93,371.03 705.10,359.05 705.26,388.39 705.42,369.27 705.58,390.94 705.75,381.59 705.91,358.92 706.07,368.52 706.23,364.70 706.40,391.91 706.56,381.04 706.72,360.38 706.88,364.79 707.05,371.51 707.21,375.82 707.37,380.97 707.53,373.28 707.70,372.44 707.86,362.98 708.02,381.38 708.18,372.74 708.35,364.95 708.51,377.13 708.67,391.99 708.83,367.09 709.00,369.83 709.16,384.33 709.32,373.50 709.48,373.87 709.65,380.12 709.81,374.57 709.97,382.98 710.13,382.28 710.30,391.73 710.46,392.66 710.62,372.65 710.78,384.69 710.95,389.45 711.11,391.64 711.27,390.16 711.43,387.76 711.60,388.15 711.76,382.15 711.92,381.05 712.09,392.13 712.25,393.74 712.41,395.09 712.57,391.12 712.74,383.72 712.90,393.19 713.06,393.13 713.22,389.19 713.39,391.98 713.55,386.63 713.71,390.94 713.87,388.14 714.04,383.36 714.20,387.62 714.36,387.71 714.52,398.25 714.69,390.86 714.85,389.26 715.01,387.86 715.17,388.08 715.34,389.37 715.50,386.05 715.66,383.86 715.82,397.45 715.99,389.81 716.15,389.30 716.31,391.86 716.47,385.90 716.64,383.20 716.80,381.03 716.96,384.61 717.12,384.17 717.29,393.28 717.45,389.13 717.61,396.89 717.77,382.43 717.94,396.27 718.10,388.38 718.26,374.69 718.42,376.15 718.59,387.14 718.75,397.01 718.91,378.73 719.07,391.46 719.24,379.77 719.40,393.48 719.56,368.24 719.72,380.08 719.89,392.87 720.05,371.71 720.21,370.42 720.38,363.05 720.54,366.19 720.70,368.50 720.86,383.76 721.03,365.50 721.19,370.75 721.35,363.70 721.51,378.07 721.68,385.83 721.84,378.50 722.00,361.08 722.16,380.23 722.33,386.66 722.49,374.64 722.65,355.02 722.81,380.53 722.98,382.06 723.14,361.74 723.30,354.88 723.46,356.18 723.63,368.92 723.79,379.74 723.95,371.94 724.11,380.19 724.28,355.47 724.44,358.71 724.60,373.83 724.76,370.38 724.93,360.50 725.09,370.79 725.25,358.01 725.41,349.93 725.58,360.33 725.74,349.66 725.90,368.10 726.06,357.56 726.23,362.85 726.39,366.63 726.55,355.20 726.71,361.23 726.88,349.09 727.04,374.36 727.20,364.45 727.36,375.18 727.53,348.81 727.69,364.90 727.85,367.62 728.01,354.62 728.18,348.11 728.34,349.28 728.50,348.54 728.67,367.04 728.83,346.43 728.99,367.58 729.15,354.76 729.32,358.91 729.48,360.21 729.64,359.12 729.80,362.34 729.97,360.73 730.13,351.38 730.29,364.84 730.45,349.46 730.62,364.14 730.78,365.61 730.94,366.00 731.10,351.09 731.27,366.02 731.43,371.29 731.59,355.66 731.75,350.45 731.92,358.74 732.08,370.61 732.24,346.75 732.40,343.74 732.57,356.80 732.73,363.26 732.89,366.60 733.05,353.28 733.22,372.18 733.38,349.47 733.54,365.82 733.70,345.65 733.87,344.01 734.03,346.47 734.19,344.53 734.35,356.91 734.52,358.71 734.68,347.09 734.84,368.39 735.00,351.58 735.17,345.86 735.33,346.40 735.49,362.48 735.65,366.65 735.82,345.60 735.98,342.40 736.14,362.53 736.30,347.08 736.47,366.70 736.63,353.97 736.79,358.05 736.96,348.96 737.12,362.24 737.28,352.63 737.44,348.82 737.61,366.84 737.77,343.17 737.93,363.57 738.09,341.94 738.26,361.95 738.42,353.14 738.58,370.32 738.74,344.69 738.91,362.65 739.07,357.11 739.23,375.17 739.39,376.70 739.56,368.32 739.72,355.09 739.88,356.84 740.04,358.09 740.21,364.36 740.37,359.08 740.53,359.23 740.69,378.28 740.86,375.75 741.02,364.69 741.18,386.96 741.34,364.27 741.51,376.90 741.67,364.55 741.83,386.93 741.99,387.92 742.16,369.88 742.32,385.53 742.48,387.69 742.64,371.77 742.81,373.57 742.97,378.72 743.13,390.58 743.29,370.79 743.46,386.16 743.62,384.26 743.78,379.78 743.94,384.52 744.11,392.20 744.27,375.03 744.43,392.81 744.59,379.52 744.76,391.19 744.92,393.28 745.08,376.87 745.25,393.90 745.41,396.78 745.57,380.74 745.73,375.71 745.90,377.86 746.06,397.08 746.22,376.97 746.38,396.09 746.55,380.45 746.71,393.17 746.87,380.48 747.03,382.08 747.20,392.63 747.36,381.28 747.52,385.66 747.68,396.79 747.85,393.63 748.01,396.36 748.17,397.87 748.33,381.91 748.50,385.14 748.66,395.31 748.82,393.82 748.98,382.99 749.15,390.75 749.31,386.18 749.47,389.47 749.63,384.39 749.80,382.86 749.96,398.57 750.12,386.66 750.28,396.96 750.45,382.89 750.61,389.36 750.77,382.45 750.93,387.59 751.10,382.54 751.26,393.38 751.42,381.32 751.58,394.30 751.75,388.61 751.91,379.63 752.07,384.28 752.23,387.70 752.40,397.23 752.56,383.20 752.72,379.91 752.88,397.56 753.05,395.65 753.21,392.18 753.37,379.77 753.54,377.31 753.70,378.89 753.86,374.27 754.02,373.35 754.19,384.72 754.35,381.10 754.51,385.68 754.67,379.30 754.84,371.25 755.00,387.81 755.16,386.56 755.32,383.42 755.49,383.17 755.65,386.08 755.81,391.29 755.97,388.76 756.14,385.29 756.30,377.32 756.46,375.39 756.62,377.15 756.79,387.77 756.95,375.90 757.11,376.03 757.27,376.90 757.44,372.36 757.60,389.52 757.76,370.61 757.92,383.43 758.09,389.97 758.25,375.96 758.41,384.87 758.57,379.18 758.74,376.67 758.90,376.14 759.06,374.82 759.22,392.17 759.39,391.47 759.55,394.39 759.71,373.91 759.87,389.69 760.04,379.36 760.20,388.37 760.36,385.67 760.52,378.53 760.69,395.59 760.85,370.89 761.01,390.40 761.18,392.89 761.34,383.57 761.50,386.10 761.66,396.08 761.83,374.75 761.99,386.85 762.15,389.76 762.31,377.43 762.48,388.53 762.64,376.82 762.80,381.28 762.96,383.44 763.13,384.56 763.29,371.37 763.45,381.39 763.61,377.72 763.78,366.17 763.94,378.33 764.10,365.73 764.26,384.77 764.43,370.56 764.59,378.11 764.75,371.12 764.91,368.25 765.08,359.90 765.24,357.15 765.40,379.82 765.56,367.94 765.73,367.17 765.89,366.95 766.05,375.09 766.21,356.88 766.38,354.93 766.54,374.09 766.70,362.57 766.86,368.52 767.03,373.01 767.19,374.19 767.35,373.15 767.51,350.51 767.68,358.51 767.84,371.08 768.00,370.34 768.16,351.56 768.33,352.27 768.49,354.82 768.65,351.63 768.81,358.11 768.98,371.70 769.14,364.35 769.30,362.00 769.47,352.52 769.63,360.93 769.79,379.13 769.95,371.87 770.12,363.75 770.28,365.20 770.44,376.23 770.60,375.64 770.77,356.14 770.93,374.30 771.09,363.14 771.25,369.67 771.42,359.75 771.58,363.99 771.74,363.07 771.90,364.44 772.07,354.24 772.23,359.04 772.39,371.42 772.55,355.09 772.72,358.18 772.88,375.41 773.04,360.62 773.20,361.92 773.37,359.53 773.53,377.74 773.69,355.48 773.85,371.98 774.02,377.74 774.18,358.03 774.34,364.05 774.50,375.45 774.67,370.59 774.83,362.16 774.99,353.82 775.15,364.02 775.32,361.69 775.48,372.26 775.64,359.57 775.80,362.47 775.97,370.11 776.13,374.08 776.29,360.51 776.45,361.27 776.62,367.65 776.78,376.30 776.94,355.83 777.10,377.15 777.27,370.79 777.43,360.04 777.59,369.32 777.76,358.58 777.92,352.02 778.08,371.31 778.24,359.52 778.41,364.50 778.57,363.08 778.73,374.40 778.89,370.73 779.06,349.84 779.22,366.00 779.38,361.09 779.54,361.01 779.71,372.86 779.87,359.66 780.03,361.82 780.19,375.42 780.36,360.81 780.52,363.01 780.68,364.35 780.84,375.20 781.01,370.70 781.17,373.31 781.33,359.97 781.49,348.03 781.66,372.21 781.82,367.58 781.98,376.01 782.14,376.52 782.31,351.19 782.47,355.20 782.63,350.97 782.79,380.16 782.96,352.89 783.12,353.02 783.28,379.34 783.44,372.30 783.61,353.56 783.77,376.48 783.93,377.34 784.09,368.65 784.26,355.65 784.42,376.35 784.58,366.51 784.74,372.61 784.91,383.54 785.07,378.62 785.23,379.68 785.39,358.00 785.56,362.79 785.72,368.78 785.88,354.27 786.05,380.67 786.21,360.47 786.37,359.98 786.53,361.09 786.70,359.46 786.86,375.89 787.02,368.00 787.18,366.52 787.35,363.30 787.51,354.18 787.67,360.10 787.83,376.04 788.00,374.55 788.16,375.90 788.32,358.72 788.48,357.44 788.65,353.97 788.81,367.65 788.97,362.15 789.13,364.96 789.30,365.94 789.46,369.45 789.62,362.28 789.78,375.33 789.95,358.22 790.11,378.28 790.27,369.02 790.43,354.99 790.60,361.44 790.76,368.53 790.92,364.20 791.08,369.71 791.25,362.04 791.41,360.85 791.57,376.06 791.73,361.49 791.90,374.10 792.06,376.44 792.22,371.09 792.38,366.36" fill="none" stroke="#559BD3" stroke-width="2.6" stroke-linecap="round" stroke-linejoin="round" />
<polyline points="869.00,346.68 869.16,328.57 869.33,347.63 869.49,314.93 869.65,330.18 869.81,342.03 869.98,315.18 870.14,353.88 870.30,316.49 870.46,344.06 870.63,322.29 870.79,361.90 870.95,348.25 871.11,360.25 871.28,349.66 871.44,358.18 871.60,359.05 871.76,342.39 871.93,339.57 872.09,367.96 872.25,337.72 872.41,371.41 872.58,340.14 872.74,336.31 872.90,336.22 873.06,364.68 873.23,369.93 873.39,348.03 873.55,358.95 873.71,342.05 873.88,366.38 874.04,358.70 874.20,338.05 874.36,334.86 874.53,358.03 874.69,334.10 874.85,362.63 875.01,341.83 875.18,339.68 875.34,353.85 875.50,342.41 875.66,352.92 875.83,336.60 875.99,365.32 876.15,342.23 876.31,363.12 876.48,336.59 876.64,361.94 876.80,367.81 876.96,345.73 877.13,334.05 877.29,345.76 877.45,357.15 877.62,340.93 877.78,354.09 877.94,337.50 878.10,350.61 878.27,361.74 878.43,349.82 878.59,360.72 878.75,339.77 878.92,366.36 879.08,341.45 879.24,369.97 879.40,372.40 879.57,371.13 879.73,358.36 879.89,350.01 880.05,352.45 880.22,367.35 880.38,359.10 880.54,373.23 880.70,347.82 880.87,360.15 881.03,372.76 881.19,365.59 881.35,364.13 881.52,350.49 881.68,352.36 881.84,356.41 882.00,376.05 882.17,375.26 882.33,356.82 882.49,378.10 882.65,353.02 882.82,370.22 882.98,380.21 883.14,362.57 883.30,380.38 883.47,373.63 883.63,357.05 883.79,364.50 883.95,368.31 884.12,363.49 884.28,377.96 884.44,363.08 884.60,379.84 884.77,367.01 884.93,362.55 885.09,375.57 885.25,364.36 885.42,376.31 885.58,382.28 885.74,377.96 885.91,373.51 886.07,362.66 886.23,374.46 886.39,362.74 886.56,377.00 886.72,362.21 886.88,373.82 887.04,366.13 887.21,366.04 887.37,374.07 887.53,359.66 887.69,359.13 887.86,378.47 888.02,361.64 888.18,375.27 888.34,375.96 888.51,365.45 888.67,357.03 888.83,355.82 888.99,376.09 889.16,356.33 889.32,366.05 889.48,367.58 889.64,356.34 889.81,365.04 889.97,357.37 890.13,367.61 890.29,366.69 890.46,362.45 890.62,358.55 890.78,363.57 890.94,358.89 891.11,357.34 891.27,359.92 891.43,376.49 891.59,367.46 891.76,377.72 891.92,355.67 892.08,379.71 892.24,367.97 892.41,377.02 892.57,371.56 892.73,375.19 892.89,361.62 893.06,377.50 893.22,360.60 893.38,364.25 893.54,359.37 893.71,369.51 893.87,374.87 894.03,368.41 894.20,386.87 894.36,364.91 894.52,380.32 894.68,370.32 894.85,382.53 895.01,388.50 895.17,387.30 895.33,370.95 895.50,376.40 895.66,386.85 895.82,395.23 895.98,376.83 896.15,389.73 896.31,391.73 896.47,394.18 896.63,385.65 896.80,394.94 896.96,388.94 897.12,397.35 897.28,383.08 897.45,398.38 897.61,390.03 897.77,390.33 897.93,386.57 898.10,389.00 898.26,396.13 898.42,395.63 898.58,389.56 898.75,391.95 898.91,390.59 899.07,391.61 899.23,392.30 899.40,393.59 899.56,398.44 899.72,398.50 899.88,397.52 900.05,396.08 900.21,396.51 900.37,397.71 900.53,398.05" fill="none" stroke="#559BD3" stroke-width="2.6" stroke-linecap="round" stroke-linejoin="round" />
<polyline points="613.20,329.00 613.80,312.00 614.60,297.00 615.60,284.00 617.40,275.00 618.60,267.50 620.50,257.50 621.75,245.00 623.00,232.50 624.25,223.75 625.50,220.60 626.75,226.25 628.00,237.50 629.25,247.50 630.75,253.75 631.75,240.00 632.40,226.25 633.00,222.50 634.00,230.00 634.90,245.00 636.10,257.50 637.40,268.00 639.25,279.00 640.50,286.00 641.75,291.00 643.60,309.50 644.90,328.25 646.10,347.00 648.00,359.50 650.50,372.00 653.00,382.00 654.25,385.75" fill="none" stroke="#96191C" stroke-width="4.4" stroke-linecap="round" stroke-linejoin="round" />
<polyline points="679.50,258.75 681.00,255.00 682.60,252.50 685.75,237.50 688.25,222.50 690.75,210.00 693.25,197.50 695.75,180.00 698.25,161.25 700.10,150.00 702.00,137.50 703.25,128.10 706.40,125.00 708.25,116.50 709.50,106.00 710.75,102.00 712.40,97.00 714.25,95.75 716.75,84.50 719.25,81.40 722.40,84.50 724.90,88.90 726.75,97.00 728.90,112.50 730.75,123.75 733.25,132.50 735.10,139.40 737.60,140.60 740.10,140.00 742.00,134.40 744.50,136.25 747.00,142.50 748.25,149.40 750.75,153.75 753.25,161.25 755.10,166.90 757.60,167.50 759.50,175.00 760.75,185.00 762.00,192.50 765.10,202.50 767.60,210.00 770.75,220.00 772.60,228.75 773.90,240.00 775.10,255.00 776.40,270.00 778.25,287.50 780.10,301.25 782.00,311.90" fill="none" stroke="#96191C" stroke-width="4.4" stroke-linecap="round" stroke-linejoin="round" />
<polyline points="870.40,271.90 871.90,262.50 873.10,250.00 874.40,237.50 875.60,226.25 877.50,205.00 880.00,185.00 881.90,172.50 883.10,163.75 885.00,167.50 886.90,160.00 889.40,153.75 890.60,157.50 892.50,171.25 894.40,162.50 895.60,155.00 896.90,150.00 898.75,152.50 899.75,156.25" fill="none" stroke="#96191C" stroke-width="4.4" stroke-linecap="round" stroke-linejoin="round" />
<rect x="614.5" y="71.5" width="327.54999999999995" height="327.95" fill="none" stroke="#000" stroke-width="1.25"/>
<line x1="614.50" y1="71.50" x2="614.50" y2="62.90" stroke="#000" stroke-width="1.05"/>
<line x1="614.50" y1="399.45" x2="614.50" y2="408.05" stroke="#000" stroke-width="1.05"/>
<text x="614.50" y="429.55" font-size="15.3" text-anchor="middle" fill="#000">20/06</text>
<line x1="661.29" y1="71.50" x2="661.29" y2="62.90" stroke="#000" stroke-width="1.05"/>
<line x1="661.29" y1="399.45" x2="661.29" y2="408.05" stroke="#000" stroke-width="1.05"/>
<text x="661.29" y="429.55" font-size="15.3" text-anchor="middle" fill="#000">21/06</text>
<line x1="708.09" y1="71.50" x2="708.09" y2="62.90" stroke="#000" stroke-width="1.05"/>
<line x1="708.09" y1="399.45" x2="708.09" y2="408.05" stroke="#000" stroke-width="1.05"/>
<text x="708.09" y="429.55" font-size="15.3" text-anchor="middle" fill="#000">22/06</text>
<line x1="754.88" y1="71.50" x2="754.88" y2="62.90" stroke="#000" stroke-width="1.05"/>
<line x1="754.88" y1="399.45" x2="754.88" y2="408.05" stroke="#000" stroke-width="1.05"/>
<text x="754.88" y="429.55" font-size="15.3" text-anchor="middle" fill="#000">23/06</text>
<line x1="801.67" y1="71.50" x2="801.67" y2="62.90" stroke="#000" stroke-width="1.05"/>
<line x1="801.67" y1="399.45" x2="801.67" y2="408.05" stroke="#000" stroke-width="1.05"/>
<text x="801.67" y="429.55" font-size="15.3" text-anchor="middle" fill="#000">24/06</text>
<line x1="848.46" y1="71.50" x2="848.46" y2="62.90" stroke="#000" stroke-width="1.05"/>
<line x1="848.46" y1="399.45" x2="848.46" y2="408.05" stroke="#000" stroke-width="1.05"/>
<text x="848.46" y="429.55" font-size="15.3" text-anchor="middle" fill="#000">25/06</text>
<line x1="895.26" y1="71.50" x2="895.26" y2="62.90" stroke="#000" stroke-width="1.05"/>
<line x1="895.26" y1="399.45" x2="895.26" y2="408.05" stroke="#000" stroke-width="1.05"/>
<text x="895.26" y="429.55" font-size="15.3" text-anchor="middle" fill="#000">26/06</text>
<line x1="942.05" y1="71.50" x2="942.05" y2="62.90" stroke="#000" stroke-width="1.05"/>
<line x1="942.05" y1="399.45" x2="942.05" y2="408.05" stroke="#000" stroke-width="1.05"/>
<text x="942.05" y="429.55" font-size="15.3" text-anchor="middle" fill="#000">27/06</text>
<text x="778.27" y="458.35" font-size="21.0" text-anchor="middle" fill="#000">Time (Day/UTC)</text>
<line x1="610.20" y1="373.29" x2="614.50" y2="373.29" stroke="#222" stroke-width="0.8"/>
<line x1="610.20" y1="320.96" x2="614.50" y2="320.96" stroke="#222" stroke-width="0.8"/>
<line x1="610.20" y1="268.64" x2="614.50" y2="268.64" stroke="#222" stroke-width="0.8"/>
<line x1="610.20" y1="216.31" x2="614.50" y2="216.31" stroke="#222" stroke-width="0.8"/>
<line x1="610.20" y1="163.99" x2="614.50" y2="163.99" stroke="#222" stroke-width="0.8"/>
<line x1="610.20" y1="111.66" x2="614.50" y2="111.66" stroke="#222" stroke-width="0.8"/>
<line x1="605.80" y1="399.45" x2="614.50" y2="399.45" stroke="#000" stroke-width="1.05"/>
<line x1="614.50" y1="399.45" x2="942.05" y2="399.45" stroke="#000" stroke-width="1.05"/>
<text x="595.60" y="404.95" font-size="15.3" text-anchor="end" fill="#000">0</text>
<line x1="605.80" y1="347.12" x2="614.50" y2="347.12" stroke="#000" stroke-width="1.05"/>
<line x1="614.50" y1="347.12" x2="942.05" y2="347.12" stroke="#000" stroke-width="1.05"/>
<text x="595.60" y="352.62" font-size="15.3" text-anchor="end" fill="#000">4</text>
<line x1="605.80" y1="294.80" x2="614.50" y2="294.80" stroke="#000" stroke-width="1.05"/>
<line x1="614.50" y1="294.80" x2="942.05" y2="294.80" stroke="#000" stroke-width="1.05"/>
<text x="595.60" y="300.30" font-size="15.3" text-anchor="end" fill="#000">8</text>
<line x1="605.80" y1="242.47" x2="614.50" y2="242.47" stroke="#000" stroke-width="1.05"/>
<line x1="614.50" y1="242.47" x2="942.05" y2="242.47" stroke="#000" stroke-width="1.05"/>
<text x="595.60" y="247.97" font-size="15.3" text-anchor="end" fill="#000">12</text>
<line x1="605.80" y1="190.15" x2="614.50" y2="190.15" stroke="#000" stroke-width="1.05"/>
<line x1="614.50" y1="190.15" x2="942.05" y2="190.15" stroke="#000" stroke-width="1.05"/>
<text x="595.60" y="195.65" font-size="15.3" text-anchor="end" fill="#000">16</text>
<line x1="605.80" y1="137.82" x2="614.50" y2="137.82" stroke="#000" stroke-width="1.05"/>
<line x1="614.50" y1="137.82" x2="942.05" y2="137.82" stroke="#000" stroke-width="1.05"/>
<text x="595.60" y="143.32" font-size="15.3" text-anchor="end" fill="#000">20</text>
<line x1="605.80" y1="85.50" x2="614.50" y2="85.50" stroke="#000" stroke-width="1.05"/>
<line x1="614.50" y1="85.50" x2="942.05" y2="85.50" stroke="#000" stroke-width="1.05"/>
<text x="595.60" y="91.00" font-size="15.3" text-anchor="end" fill="#000">24</text>
<line x1="942.05" y1="399.45" x2="946.35" y2="399.45" stroke="#222" stroke-width="0.8"/>
<line x1="942.05" y1="373.21" x2="946.35" y2="373.21" stroke="#222" stroke-width="0.8"/>
<line x1="942.05" y1="360.10" x2="946.35" y2="360.10" stroke="#222" stroke-width="0.8"/>
<line x1="942.05" y1="346.98" x2="946.35" y2="346.98" stroke="#222" stroke-width="0.8"/>
<line x1="942.05" y1="320.74" x2="946.35" y2="320.74" stroke="#222" stroke-width="0.8"/>
<line x1="942.05" y1="307.62" x2="946.35" y2="307.62" stroke="#222" stroke-width="0.8"/>
<line x1="942.05" y1="294.51" x2="946.35" y2="294.51" stroke="#222" stroke-width="0.8"/>
<line x1="942.05" y1="268.27" x2="946.35" y2="268.27" stroke="#222" stroke-width="0.8"/>
<line x1="942.05" y1="255.15" x2="946.35" y2="255.15" stroke="#222" stroke-width="0.8"/>
<line x1="942.05" y1="242.03" x2="946.35" y2="242.03" stroke="#222" stroke-width="0.8"/>
<line x1="942.05" y1="215.80" x2="946.35" y2="215.80" stroke="#222" stroke-width="0.8"/>
<line x1="942.05" y1="202.68" x2="946.35" y2="202.68" stroke="#222" stroke-width="0.8"/>
<line x1="942.05" y1="189.56" x2="946.35" y2="189.56" stroke="#222" stroke-width="0.8"/>
<line x1="942.05" y1="163.33" x2="946.35" y2="163.33" stroke="#222" stroke-width="0.8"/>
<line x1="942.05" y1="150.21" x2="946.35" y2="150.21" stroke="#222" stroke-width="0.8"/>
<line x1="942.05" y1="137.09" x2="946.35" y2="137.09" stroke="#222" stroke-width="0.8"/>
<line x1="942.05" y1="110.85" x2="946.35" y2="110.85" stroke="#222" stroke-width="0.8"/>
<line x1="942.05" y1="97.74" x2="946.35" y2="97.74" stroke="#222" stroke-width="0.8"/>
<line x1="942.05" y1="84.62" x2="946.35" y2="84.62" stroke="#222" stroke-width="0.8"/>
<line x1="942.05" y1="386.33" x2="950.75" y2="386.33" stroke="#000" stroke-width="1.05"/>
<text x="960.75" y="391.83" font-size="15.3" text-anchor="start" fill="#000">956</text>
<line x1="942.05" y1="333.86" x2="950.75" y2="333.86" stroke="#000" stroke-width="1.05"/>
<text x="960.75" y="339.36" font-size="15.3" text-anchor="start" fill="#000">960</text>
<line x1="942.05" y1="281.39" x2="950.75" y2="281.39" stroke="#000" stroke-width="1.05"/>
<text x="960.75" y="286.89" font-size="15.3" text-anchor="start" fill="#000">964</text>
<line x1="942.05" y1="228.92" x2="950.75" y2="228.92" stroke="#000" stroke-width="1.05"/>
<text x="960.75" y="234.42" font-size="15.3" text-anchor="start" fill="#000">968</text>
<line x1="942.05" y1="176.44" x2="950.75" y2="176.44" stroke="#000" stroke-width="1.05"/>
<text x="960.75" y="181.94" font-size="15.3" text-anchor="start" fill="#000">972</text>
<line x1="942.05" y1="123.97" x2="950.75" y2="123.97" stroke="#000" stroke-width="1.05"/>
<text x="960.75" y="129.47" font-size="15.3" text-anchor="start" fill="#000">976</text>
<line x1="942.05" y1="71.50" x2="950.75" y2="71.50" stroke="#000" stroke-width="1.05"/>
<text x="960.75" y="77.00" font-size="15.3" text-anchor="start" fill="#000">980</text>
<text x="778.77" y="45.00" font-size="25.25" text-anchor="middle" fill="#000">Winds (mph) &amp; Pressure (mb)</text>
<text x="562.20" y="235.80" font-size="21.0" text-anchor="middle" fill="#000" transform="rotate(-90 562.20 235.80)">Sonic/Prop Wind &amp; Gust (Blue, Black)</text>
<text x="1013.90" y="234.70" font-size="21.1" text-anchor="middle" fill="#000" transform="rotate(-90 1013.90 234.70)">Station Pressure (Maroon)</text>
<polyline points="102.50,860.00 141.40,860.00" fill="none" stroke="#44B248" stroke-width="13.4" stroke-linecap="round" stroke-linejoin="round" />
<polyline points="168.60,860.00 214.00,860.00 214.50,854.90 254.00,854.90 254.20,845.40 261.00,845.40 261.10,844.40 261.75,831.20 263.10,812.90 264.75,794.60 267.20,778.00 268.90,754.80 270.60,731.20" fill="none" stroke="#44B248" stroke-width="13.4" stroke-linecap="round" stroke-linejoin="round" />
<polyline points="102.00,617.50 102.90,610.00 103.75,598.75 105.00,591.90 106.00,595.00 106.60,610.00 108.50,607.50 110.40,602.50 111.00,593.75 111.60,581.25 112.90,573.75 114.75,572.50 116.60,572.75 118.50,573.75 119.10,582.50 119.75,596.25 120.40,608.75 121.00,621.25 122.25,632.50 123.25,627.50 124.10,610.00 125.40,601.25 127.90,598.75 129.75,600.00 131.00,606.25 132.25,618.00 133.50,630.00 134.10,636.25 135.40,651.25 137.25,658.75 137.90,670.00 139.10,682.50 140.40,695.00 142.25,691.25 142.50,686.25" fill="none" stroke="#8DC64F" stroke-width="4.9" stroke-linecap="round" stroke-linejoin="round" />
<polyline points="167.25,675.60 168.50,682.50 170.40,693.75 171.60,682.50 171.00,675.00 173.50,687.50 174.10,670.00 175.00,651.25 176.00,636.25 177.25,630.30 179.10,637.00 181.00,647.20 182.25,634.00 183.50,621.25 184.75,612.50 186.00,620.00 186.60,642.00 187.25,660.00 187.90,666.25 189.10,648.00 189.75,608.75 190.40,590.00 191.60,587.50 193.50,588.75 196.00,592.50 197.25,600.00 197.90,610.00 201.00,614.40 203.50,610.00 206.00,605.00 208.50,604.40 209.40,608.00 210.00,621.25 211.90,635.60 213.75,621.25 214.75,605.00 216.90,602.50 218.50,597.00 220.00,607.50 221.25,617.50 223.10,621.25 225.00,612.50 228.10,607.50 229.40,596.25 231.25,585.00 233.10,578.75 235.60,572.50 238.75,568.75 242.50,567.50 245.60,566.90 247.50,562.50 250.00,561.90 251.90,567.50 253.75,558.75 255.00,557.50 256.50,565.00 257.50,581.25 258.50,592.50 260.60,593.10 261.50,581.25 261.90,565.00 263.75,563.10 266.25,561.90 268.10,564.40 270.00,560.60 271.25,558.75" fill="none" stroke="#8DC64F" stroke-width="4.9" stroke-linecap="round" stroke-linejoin="round" />
<polyline points="358.50,642.50 358.75,627.50 359.40,606.25 361.00,599.40 362.75,605.00 363.50,627.50 364.00,641.25 366.00,644.40 366.90,627.50 367.25,606.25 368.50,610.00 369.00,627.50 369.75,633.75 371.90,630.00 373.10,622.50 374.40,610.00 376.00,608.75 377.50,617.50 379.00,615.00 380.00,602.50 381.90,595.00 383.10,587.50 384.40,586.25 386.25,589.40 387.50,590.00" fill="none" stroke="#8DC64F" stroke-width="4.9" stroke-linecap="round" stroke-linejoin="round" />
<rect x="102.5" y="532.45" width="327.55" height="327.75" fill="none" stroke="#000" stroke-width="1.25"/>
<line x1="102.50" y1="532.45" x2="102.50" y2="523.85" stroke="#000" stroke-width="1.05"/>
<line x1="102.50" y1="860.20" x2="102.50" y2="868.80" stroke="#000" stroke-width="1.05"/>
<text x="102.50" y="890.30" font-size="15.3" text-anchor="middle" fill="#000">20/06</text>
<line x1="149.29" y1="532.45" x2="149.29" y2="523.85" stroke="#000" stroke-width="1.05"/>
<line x1="149.29" y1="860.20" x2="149.29" y2="868.80" stroke="#000" stroke-width="1.05"/>
<text x="149.29" y="890.30" font-size="15.3" text-anchor="middle" fill="#000">21/06</text>
<line x1="196.09" y1="532.45" x2="196.09" y2="523.85" stroke="#000" stroke-width="1.05"/>
<line x1="196.09" y1="860.20" x2="196.09" y2="868.80" stroke="#000" stroke-width="1.05"/>
<text x="196.09" y="890.30" font-size="15.3" text-anchor="middle" fill="#000">22/06</text>
<line x1="242.88" y1="532.45" x2="242.88" y2="523.85" stroke="#000" stroke-width="1.05"/>
<line x1="242.88" y1="860.20" x2="242.88" y2="868.80" stroke="#000" stroke-width="1.05"/>
<text x="242.88" y="890.30" font-size="15.3" text-anchor="middle" fill="#000">23/06</text>
<line x1="289.67" y1="532.45" x2="289.67" y2="523.85" stroke="#000" stroke-width="1.05"/>
<line x1="289.67" y1="860.20" x2="289.67" y2="868.80" stroke="#000" stroke-width="1.05"/>
<text x="289.67" y="890.30" font-size="15.3" text-anchor="middle" fill="#000">24/06</text>
<line x1="336.46" y1="532.45" x2="336.46" y2="523.85" stroke="#000" stroke-width="1.05"/>
<line x1="336.46" y1="860.20" x2="336.46" y2="868.80" stroke="#000" stroke-width="1.05"/>
<text x="336.46" y="890.30" font-size="15.3" text-anchor="middle" fill="#000">25/06</text>
<line x1="383.26" y1="532.45" x2="383.26" y2="523.85" stroke="#000" stroke-width="1.05"/>
<line x1="383.26" y1="860.20" x2="383.26" y2="868.80" stroke="#000" stroke-width="1.05"/>
<text x="383.26" y="890.30" font-size="15.3" text-anchor="middle" fill="#000">26/06</text>
<line x1="430.05" y1="532.45" x2="430.05" y2="523.85" stroke="#000" stroke-width="1.05"/>
<line x1="430.05" y1="860.20" x2="430.05" y2="868.80" stroke="#000" stroke-width="1.05"/>
<text x="430.05" y="890.30" font-size="15.3" text-anchor="middle" fill="#000">27/06</text>
<text x="266.27" y="919.10" font-size="21.0" text-anchor="middle" fill="#000">Time (Day/UTC)</text>
<line x1="98.20" y1="827.43" x2="102.50" y2="827.43" stroke="#222" stroke-width="0.8"/>
<line x1="98.20" y1="761.88" x2="102.50" y2="761.88" stroke="#222" stroke-width="0.8"/>
<line x1="98.20" y1="696.33" x2="102.50" y2="696.33" stroke="#222" stroke-width="0.8"/>
<line x1="98.20" y1="630.78" x2="102.50" y2="630.78" stroke="#222" stroke-width="0.8"/>
<line x1="98.20" y1="565.23" x2="102.50" y2="565.23" stroke="#222" stroke-width="0.8"/>
<line x1="93.80" y1="860.20" x2="102.50" y2="860.20" stroke="#000" stroke-width="1.05"/>
<line x1="102.50" y1="860.20" x2="430.05" y2="860.20" stroke="#000" stroke-width="1.05"/>
<text x="83.60" y="865.70" font-size="15.3" text-anchor="end" fill="#000">0</text>
<line x1="93.80" y1="794.65" x2="102.50" y2="794.65" stroke="#000" stroke-width="1.05"/>
<line x1="102.50" y1="794.65" x2="430.05" y2="794.65" stroke="#000" stroke-width="1.05"/>
<text x="83.60" y="800.15" font-size="15.3" text-anchor="end" fill="#000">20</text>
<line x1="93.80" y1="729.10" x2="102.50" y2="729.10" stroke="#000" stroke-width="1.05"/>
<line x1="102.50" y1="729.10" x2="430.05" y2="729.10" stroke="#000" stroke-width="1.05"/>
<text x="83.60" y="734.60" font-size="15.3" text-anchor="end" fill="#000">40</text>
<line x1="93.80" y1="663.55" x2="102.50" y2="663.55" stroke="#000" stroke-width="1.05"/>
<line x1="102.50" y1="663.55" x2="430.05" y2="663.55" stroke="#000" stroke-width="1.05"/>
<text x="83.60" y="669.05" font-size="15.3" text-anchor="end" fill="#000">60</text>
<line x1="93.80" y1="598.00" x2="102.50" y2="598.00" stroke="#000" stroke-width="1.05"/>
<line x1="102.50" y1="598.00" x2="430.05" y2="598.00" stroke="#000" stroke-width="1.05"/>
<text x="83.60" y="603.50" font-size="15.3" text-anchor="end" fill="#000">80</text>
<line x1="93.80" y1="532.45" x2="102.50" y2="532.45" stroke="#000" stroke-width="1.05"/>
<line x1="102.50" y1="532.45" x2="430.05" y2="532.45" stroke="#000" stroke-width="1.05"/>
<text x="83.60" y="537.95" font-size="15.3" text-anchor="end" fill="#000">100</text>
<line x1="430.05" y1="846.80" x2="434.35" y2="846.80" stroke="#222" stroke-width="0.8"/>
<line x1="430.05" y1="833.40" x2="434.35" y2="833.40" stroke="#222" stroke-width="0.8"/>
<line x1="430.05" y1="820.01" x2="434.35" y2="820.01" stroke="#222" stroke-width="0.8"/>
<line x1="430.05" y1="793.21" x2="434.35" y2="793.21" stroke="#222" stroke-width="0.8"/>
<line x1="430.05" y1="779.81" x2="434.35" y2="779.81" stroke="#222" stroke-width="0.8"/>
<line x1="430.05" y1="766.42" x2="434.35" y2="766.42" stroke="#222" stroke-width="0.8"/>
<line x1="430.05" y1="739.62" x2="434.35" y2="739.62" stroke="#222" stroke-width="0.8"/>
<line x1="430.05" y1="726.22" x2="434.35" y2="726.22" stroke="#222" stroke-width="0.8"/>
<line x1="430.05" y1="712.82" x2="434.35" y2="712.82" stroke="#222" stroke-width="0.8"/>
<line x1="430.05" y1="686.03" x2="434.35" y2="686.03" stroke="#222" stroke-width="0.8"/>
<line x1="430.05" y1="672.63" x2="434.35" y2="672.63" stroke="#222" stroke-width="0.8"/>
<line x1="430.05" y1="659.23" x2="434.35" y2="659.23" stroke="#222" stroke-width="0.8"/>
<line x1="430.05" y1="632.44" x2="434.35" y2="632.44" stroke="#222" stroke-width="0.8"/>
<line x1="430.05" y1="619.04" x2="434.35" y2="619.04" stroke="#222" stroke-width="0.8"/>
<line x1="430.05" y1="605.64" x2="434.35" y2="605.64" stroke="#222" stroke-width="0.8"/>
<line x1="430.05" y1="578.85" x2="434.35" y2="578.85" stroke="#222" stroke-width="0.8"/>
<line x1="430.05" y1="565.45" x2="434.35" y2="565.45" stroke="#222" stroke-width="0.8"/>
<line x1="430.05" y1="552.05" x2="434.35" y2="552.05" stroke="#222" stroke-width="0.8"/>
<line x1="430.05" y1="860.20" x2="438.75" y2="860.20" stroke="#000" stroke-width="1.05"/>
<text x="448.75" y="865.70" font-size="15.3" text-anchor="start" fill="#000">0.00</text>
<line x1="430.05" y1="806.61" x2="438.75" y2="806.61" stroke="#000" stroke-width="1.05"/>
<text x="448.75" y="812.11" font-size="15.3" text-anchor="start" fill="#000">0.04</text>
<line x1="430.05" y1="753.02" x2="438.75" y2="753.02" stroke="#000" stroke-width="1.05"/>
<text x="448.75" y="758.52" font-size="15.3" text-anchor="start" fill="#000">0.08</text>
<line x1="430.05" y1="699.43" x2="438.75" y2="699.43" stroke="#000" stroke-width="1.05"/>
<text x="448.75" y="704.93" font-size="15.3" text-anchor="start" fill="#000">0.12</text>
<line x1="430.05" y1="645.84" x2="438.75" y2="645.84" stroke="#000" stroke-width="1.05"/>
<text x="448.75" y="651.34" font-size="15.3" text-anchor="start" fill="#000">0.16</text>
<line x1="430.05" y1="592.24" x2="438.75" y2="592.24" stroke="#000" stroke-width="1.05"/>
<text x="448.75" y="597.74" font-size="15.3" text-anchor="start" fill="#000">0.20</text>
<line x1="430.05" y1="538.65" x2="438.75" y2="538.65" stroke="#000" stroke-width="1.05"/>
<text x="448.75" y="544.15" font-size="15.3" text-anchor="start" fill="#000">0.24</text>
<text x="266.07" y="511.30" font-size="25.4" text-anchor="middle" fill="#000">Relative Humidity (%) &amp; Precipitation (in)</text>
<text x="44.90" y="696.10" font-size="21.35" text-anchor="middle" fill="#000" transform="rotate(-90 44.90 696.10)">Percent &amp; Total Rainfall</text>
<path d="M617.8 602.6h0M622.4 603.1h0M618.4 604.6h0M615.3 597.0h0M619.5 616.7h0M614.4 585.1h0M620.2 578.4h0M619.8 607.8h0M618.6 577.4h0M615.3 583.0h0M613.8 592.7h0M617.7 617.1h0M618.5 607.5h0M618.3 608.4h0M617.9 588.0h0M621.6 614.7h0M616.5 583.8h0M616.3 575.2h0M620.9 597.9h0M621.6 598.1h0M622.2 603.2h0M622.9 600.2h0M614.2 601.8h0M621.0 591.2h0M614.3 586.5h0M614.6 582.4h0M621.2 586.7h0M618.9 597.9h0M615.3 608.5h0M614.8 603.2h0M614.6 591.5h0M615.5 584.7h0M616.4 617.8h0M615.5 591.2h0M627.0 558.1h0M627.0 577.0h0M618.0 576.0h0M632.0 617.2h0M621.1 632.2h0M622.0 634.8h0M632.8 636.6h0M622.0 651.0h0M622.5 655.0h0M621.8 650.0h0M623.0 653.8h0M618.0 660.0h0M623.0 663.8h0M623.0 670.6h0M623.6 676.2h0M621.8 682.5h0M631.8 655.6h0M631.1 666.9h0M633.6 670.6h0M632.4 676.9h0M633.0 681.9h0M626.8 783.5h0M626.8 790.6h0M626.8 860.0h0M628.6 860.0h0M632.0 714.2h0M623.0 692.0h0M630.8 699.8h0M624.1 684.5h0M621.3 705.2h0M623.4 707.3h0M625.2 701.9h0M633.4 708.1h0M628.0 721.8h0M622.6 687.1h0M623.5 689.2h0M632.4 712.8h0M625.9 686.9h0M623.3 711.8h0M623.6 717.2h0M628.4 696.7h0M622.5 712.0h0M627.8 721.0h0M628.6 696.3h0M626.2 685.2h0M622.5 696.5h0M628.0 689.4h0M625.1 721.0h0M629.7 710.3h0M620.3 707.0h0M626.8 715.0h0M621.1 703.5h0M630.3 724.6h0M630.3 716.0h0M624.9 711.9h0M625.8 717.1h0M632.1 711.3h0M628.7 700.9h0M628.2 710.5h0M621.1 707.6h0M630.2 702.0h0M630.3 710.5h0M626.2 719.4h0M621.2 712.5h0M620.4 705.5h0M626.7 693.0h0M629.8 706.5h0M628.6 724.5h0M624.2 711.2h0M622.8 688.0h0M632.7 715.4h0M626.2 721.7h0M624.6 710.8h0M622.8 699.4h0M632.3 703.1h0M628.2 697.6h0M621.9 701.8h0M710.5 571.0h0M714.9 540.4h0M713.6 543.5h0M714.9 550.4h0M703.0 531.6h0M715.5 577.2h0M713.6 581.0h0M714.2 584.1h0M711.8 586.0h0M714.2 587.9h0M714.2 594.1h0M714.2 597.2h0M714.5 599.8h0M714.2 604.1h0M713.6 624.8h0M713.8 625.4h0M716.5 675.7h0M714.5 686.0h0M712.7 681.3h0M713.4 694.9h0M721.3 676.2h0M712.7 687.4h0M719.0 705.4h0M714.2 677.7h0M714.8 697.7h0M719.1 678.0h0M714.2 680.2h0M714.1 699.3h0M715.7 690.9h0M721.8 688.2h0M715.1 704.5h0M723.0 682.7h0M718.6 707.3h0M717.8 677.8h0M721.6 684.4h0M718.3 689.6h0M719.9 678.5h0M712.1 687.9h0M716.5 700.9h0M720.6 693.2h0M713.9 675.3h0M715.9 679.4h0M722.4 689.6h0M715.2 690.4h0M713.8 699.8h0M722.2 701.9h0M713.0 679.8h0M720.6 672.9h0M717.8 687.7h0M723.5 692.5h0M722.3 681.1h0M721.5 685.7h0M706.2 694.4h0M713.1 700.0h0M716.9 705.0h0M716.9 711.2h0M720.0 725.0h0M719.4 728.8h0M710.5 664.0h0M743.5 589.0h0M751.2 607.8h0M748.4 620.6h0M751.6 658.3h0M749.6 672.1h0M753.7 648.5h0M745.4 629.7h0M745.4 637.0h0M749.4 638.9h0M751.4 661.0h0M750.3 636.9h0M744.8 633.3h0M742.6 637.3h0M749.1 657.7h0M746.9 665.1h0M743.6 645.5h0M751.0 657.9h0M754.4 667.4h0M744.9 653.6h0M742.9 636.2h0M751.1 640.5h0M747.1 670.8h0M744.2 659.3h0M744.8 638.3h0M745.2 657.5h0M753.8 631.5h0M744.3 672.8h0M747.8 646.0h0M756.4 649.5h0M749.6 652.5h0M755.9 626.8h0M749.3 655.8h0M743.0 638.6h0M754.8 636.6h0M748.7 663.7h0M748.1 628.5h0M742.9 641.7h0M753.8 663.2h0M745.6 636.8h0M750.1 638.4h0M749.3 654.0h0M747.4 634.3h0M757.1 669.5h0M744.0 673.0h0M751.1 625.8h0M747.5 648.9h0M755.2 662.4h0M755.0 644.3h0M748.9 672.0h0M748.1 651.1h0M745.3 634.0h0M745.4 652.9h0M745.3 655.8h0M745.5 643.1h0M747.3 657.4h0M757.1 664.3h0M754.9 649.6h0M748.1 648.6h0M752.9 666.0h0M746.9 656.9h0M745.3 650.0h0M748.9 673.4h0M752.3 633.4h0M748.2 662.0h0M755.4 633.4h0M751.5 694.9h0M751.6 695.5h0M745.4 698.4h0M743.4 677.4h0M746.2 683.9h0M751.9 684.9h0M743.8 677.5h0M746.1 697.1h0M741.6 685.0h0M749.9 697.3h0M753.8 688.7h0M748.3 679.1h0M744.2 687.0h0M749.0 684.0h0M750.6 676.0h0M748.2 678.3h0M747.5 691.0h0M740.8 676.4h0M745.2 684.1h0M745.1 685.7h0M747.0 690.0h0M742.5 680.2h0M742.5 708.0h0M744.0 713.0h0M744.4 716.9h0M762.0 705.0h0M760.6 711.0h0M758.8 719.8h0M758.8 733.8h0M771.0 744.0h0M741.0 647.0h0M759.4 655.8h0M715.8 787.5h0M719.9 812.2h0M712.4 816.9h0M716.1 817.5h0M719.9 837.9h0M707.4 844.8h0M716.1 842.2h0M715.5 853.1h0M716.1 860.0h0M701.8 860.0h0M707.0 851.0h0M895.6 542.2h0M895.0 546.0h0M895.6 549.8h0M895.0 552.9h0M894.8 556.0h0M896.5 558.8h0M895.2 569.5h0M896.0 571.6h0M895.6 577.2h0M896.6 596.0h0M897.1 637.5h0M898.0 650.2h0M898.0 660.4h0M898.8 678.2h0M897.2 715.2h0M898.8 729.8h0M897.1 778.1h0M898.1 787.2h0M896.9 798.5h0M898.5 803.8h0M897.5 808.1h0M898.5 835.2h0M898.1 860.0h0M893.0 859.0h0" stroke="#B7E2F8" stroke-width="5.5" stroke-linecap="round" fill="none"/>
<path d="M614.9 581.0h0M615.5 584.8h0M617.4 591.6h0M616.0 594.0h0M618.6 603.5h0M617.0 606.0h0M641.9 714.1h0M639.9 717.9h0M632.9 699.5h0M635.7 701.1h0M631.9 706.9h0M638.5 705.8h0M633.5 718.0h0M644.2 701.8h0M639.8 707.3h0M633.4 716.7h0M635.8 694.1h0M641.8 697.0h0M638.6 704.5h0M638.6 710.3h0M639.5 697.1h0M636.1 698.2h0M628.7 710.1h0M639.9 696.3h0M632.9 704.5h0M639.7 706.0h0M638.3 713.3h0M634.8 716.0h0M643.4 709.8h0M630.6 708.7h0M638.5 717.5h0M634.5 709.9h0M642.6 712.3h0M643.6 702.4h0M638.9 697.5h0M640.1 714.1h0M638.8 712.0h0M631.9 720.5h0M637.1 714.8h0M633.6 719.9h0M642.2 699.9h0M629.8 708.7h0M637.3 714.1h0M636.3 693.9h0M641.3 695.4h0M633.9 716.4h0M640.5 721.0h0M639.5 725.0h0M661.8 682.5h0M661.8 692.5h0M660.5 698.8h0M697.4 589.1h0M698.6 592.2h0M699.9 596.0h0M700.8 599.8h0M700.8 604.1h0M679.9 612.2h0M678.6 616.0h0M703.6 566.0h0M706.1 571.0h0M705.6 543.0h0M707.3 547.9h0M708.7 542.5h0M703.1 551.4h0M701.5 538.3h0M709.2 556.2h0M703.9 534.3h0M704.8 554.7h0M704.9 534.0h0M709.0 551.9h0M711.5 548.9h0M710.1 543.5h0M704.3 543.3h0M703.5 541.5h0M704.9 542.4h0M705.2 543.4h0M702.8 548.0h0M710.1 551.5h0M710.5 552.6h0M702.6 554.5h0M711.1 543.3h0M700.8 545.1h0M707.0 550.6h0M712.1 556.5h0M707.1 558.1h0M709.3 563.3h0M701.5 549.6h0M702.2 553.8h0M708.3 540.4h0M703.1 555.0h0M706.8 557.2h0M705.2 541.7h0M712.1 557.2h0M706.4 549.2h0M709.2 556.7h0M711.5 547.9h0M710.4 556.0h0M710.7 560.9h0M712.0 556.1h0M706.8 555.3h0M710.1 547.5h0M705.5 535.4h0M701.8 534.8h0M703.6 537.9h0M711.8 536.0h0M709.9 532.9h0M736.0 672.8h0M729.5 684.2h0M720.6 694.7h0M724.2 674.6h0M718.7 673.3h0M727.7 691.5h0M725.3 689.8h0M719.4 677.0h0M727.6 701.5h0M736.1 690.7h0M733.3 673.5h0M730.0 681.6h0M735.4 672.6h0M731.2 675.1h0M725.6 684.0h0M723.9 675.6h0M726.0 689.2h0M722.9 669.9h0M733.8 677.2h0M738.7 687.6h0M733.6 677.3h0M732.6 692.1h0M721.1 677.6h0M736.2 688.3h0M719.1 670.2h0M726.4 665.5h0M738.2 682.0h0M728.8 688.9h0M734.6 697.1h0M725.9 675.7h0M726.5 663.2h0M726.2 690.5h0M732.2 688.1h0M724.9 688.3h0M719.4 676.3h0M728.7 694.6h0M736.0 689.0h0M720.6 692.1h0M737.8 686.8h0M725.1 682.3h0M720.3 689.9h0M739.7 685.9h0M733.5 697.4h0M731.4 671.5h0M718.9 670.9h0M730.3 691.2h0M724.6 699.4h0M725.3 680.9h0M729.5 685.6h0M729.9 673.9h0M735.8 688.5h0M719.8 694.3h0M723.6 697.9h0M722.5 684.8h0M736.1 671.9h0M729.6 666.3h0M732.1 676.0h0M732.4 693.3h0M725.8 686.1h0M721.6 680.3h0M720.3 676.8h0M730.1 670.3h0M729.0 673.6h0M730.1 676.6h0M731.8 665.2h0M732.4 669.6h0M739.1 689.1h0M727.8 679.3h0M731.3 691.1h0M734.4 694.3h0M728.2 702.7h0M736.3 698.8h0M726.4 679.9h0M730.0 699.5h0M729.1 684.1h0M726.9 698.9h0M724.4 664.4h0M733.7 700.0h0M733.8 688.0h0M734.3 676.3h0M730.6 666.2h0M719.9 679.2h0M728.6 678.9h0M718.2 688.7h0M729.1 672.7h0M731.0 654.5h0M727.5 718.8h0M727.5 726.2h0M741.0 661.0h0M722.0 663.0h0M757.6 669.7h0M759.3 680.7h0M756.1 684.9h0M765.4 686.7h0M760.2 679.1h0M754.6 678.7h0M754.4 681.6h0M763.5 683.4h0M759.0 675.2h0M768.7 688.1h0M758.0 688.2h0M756.7 681.4h0M764.0 699.1h0M759.7 685.7h0M764.2 688.5h0M760.5 680.8h0M758.2 693.4h0M768.5 682.2h0M755.8 682.4h0M758.7 678.6h0M756.8 673.7h0M765.1 676.4h0M760.2 675.1h0M761.9 688.8h0M762.8 688.2h0M763.0 694.9h0M770.0 681.1h0M759.4 695.6h0M758.8 690.0h0M765.3 691.0h0M756.2 686.2h0M761.8 686.0h0M759.8 676.5h0M766.2 686.4h0M757.5 674.6h0M759.0 672.8h0M762.2 672.1h0M755.2 688.5h0M755.4 680.5h0M766.6 684.8h0M756.3 694.0h0M757.8 683.0h0M767.0 682.1h0M765.7 677.2h0M765.7 679.6h0M759.2 691.4h0M764.0 667.5h0M790.2 698.1h0M784.4 683.7h0M787.3 690.8h0M790.0 697.1h0M775.1 687.3h0M786.6 674.0h0M784.8 706.3h0M786.9 682.1h0M785.8 681.8h0M773.5 703.1h0M778.5 700.9h0M783.9 686.7h0M780.3 681.2h0M789.3 699.1h0M778.5 686.0h0M785.5 698.2h0M793.1 677.1h0M787.1 687.6h0M789.3 668.7h0M792.1 671.6h0M782.8 671.4h0M784.4 671.5h0M785.6 676.5h0M777.3 690.6h0M780.2 679.1h0M791.2 674.7h0M782.7 710.1h0M776.7 707.9h0M782.7 684.4h0M789.4 679.6h0M773.7 695.8h0M786.3 691.4h0M778.3 710.1h0M781.8 703.4h0M787.7 670.9h0M780.0 700.9h0M779.0 691.0h0M783.6 701.3h0M789.1 694.7h0M780.9 702.6h0M789.9 695.7h0M792.5 678.0h0M787.3 674.4h0M784.6 675.0h0M780.7 683.7h0M786.3 699.7h0M780.2 695.8h0M779.9 680.1h0M791.5 675.0h0M774.5 685.8h0M788.1 672.3h0M788.1 687.0h0M786.8 671.5h0M779.9 686.8h0M772.7 694.3h0M781.0 681.4h0M783.8 707.4h0M776.8 708.5h0M779.2 701.4h0M781.5 709.2h0M777.1 687.5h0M787.3 671.2h0M778.2 698.7h0M792.4 674.5h0M776.4 685.7h0M785.8 680.9h0M786.0 673.5h0M785.4 703.6h0M790.5 689.2h0M783.1 690.9h0M783.0 654.0h0M785.6 658.8h0M790.0 658.8h0M773.1 719.4h0M775.0 723.1h0M773.5 732.5h0M773.1 741.2h0M774.4 751.2h0M770.5 714.0h0M711.8 840.0h0M712.4 843.1h0M710.2 851.0h0M712.4 853.1h0M704.0 854.4h0M703.0 856.9h0M708.0 856.9h0M711.1 856.9h0M705.5 858.0h0M883.1 532.2h0M880.6 536.0h0M885.0 537.9h0M882.5 541.0h0M887.5 542.2h0M885.6 545.4h0M880.6 551.0h0M894.4 537.2h0M884.0 534.5h0M888.0 538.0h0M893.0 533.0h0M872.1 835.4h0M891.4 851.4h0M891.2 851.0h0M888.3 849.8h0M890.5 853.5h0M889.7 846.4h0M890.8 851.6h0M890.4 853.9h0M889.2 860.1h0M891.9 849.2h0M888.5 858.6h0M889.4 849.3h0M892.9 853.4h0M892.5 851.7h0M893.2 854.1h0M887.0 858.5h0M889.0 853.7h0M890.6 845.0h0M893.1 848.8h0" stroke="#7DBAE4" stroke-width="5.5" stroke-linecap="round" fill="none"/>
<path d="M641.3 706.0h0M646.8 702.2h0M648.6 698.3h0M636.3 706.2h0M637.4 708.3h0M643.4 701.9h0M646.8 700.3h0M637.8 703.3h0M636.0 710.9h0M649.0 698.6h0M642.2 698.1h0M641.6 702.7h0M642.8 695.3h0M649.0 698.4h0M639.3 708.2h0M642.1 702.2h0M644.2 695.0h0M641.7 701.4h0M637.1 705.0h0M634.7 705.9h0M647.0 667.2h0M660.5 671.2h0M659.2 687.5h0M649.2 690.0h0M650.5 702.5h0M690.9 612.9h0M691.2 596.1h0M684.6 596.8h0M689.4 624.0h0M687.1 609.6h0M690.3 608.9h0M691.7 590.1h0M693.4 628.9h0M684.6 608.3h0M694.1 608.9h0M684.8 595.0h0M690.2 589.8h0M696.7 627.9h0M693.5 629.6h0M692.2 608.3h0M691.7 612.7h0M685.9 629.7h0M694.2 626.0h0M695.3 609.3h0M693.3 625.3h0M694.5 609.0h0M693.8 593.4h0M687.3 609.8h0M692.4 618.4h0M692.8 605.4h0M692.7 616.0h0M690.6 607.1h0M693.4 625.1h0M692.0 623.6h0M685.9 606.2h0M687.9 592.9h0M685.8 629.4h0M690.9 612.6h0M697.9 617.5h0M691.7 624.4h0M684.2 609.0h0M684.4 610.1h0M691.9 592.3h0M697.6 610.6h0M690.5 616.6h0M687.7 601.5h0M692.6 615.6h0M686.3 620.9h0M684.2 622.0h0M688.1 629.7h0M688.8 610.6h0M690.4 632.2h0M693.8 611.7h0M691.8 594.8h0M692.1 610.6h0M690.5 594.9h0M689.0 619.4h0M689.2 600.8h0M691.4 608.7h0M694.7 614.8h0M694.0 601.2h0M694.8 619.2h0M687.6 600.8h0M693.1 615.9h0M691.6 618.6h0M694.3 599.0h0M686.1 607.4h0M692.1 594.3h0M690.7 592.5h0M683.0 618.0h0M690.9 618.3h0M687.8 610.4h0M685.1 603.3h0M694.2 628.8h0M695.3 619.3h0M694.6 600.2h0M688.7 600.5h0M695.3 607.6h0M687.0 613.3h0M694.2 632.6h0M700.5 622.6h0M685.5 640.0h0M683.0 592.0h0M691.0 590.5h0M700.2 584.1h0M698.9 577.5h0M698.6 570.4h0M697.8 562.5h0M699.5 556.0h0M698.5 553.5h0M701.1 541.0h0M703.0 539.0h0M699.9 552.9h0M698.6 554.8h0M733.3 681.7h0M736.5 687.8h0M734.3 688.8h0M732.5 689.4h0M735.6 689.5h0M731.4 691.5h0M731.6 686.1h0M732.7 680.3h0M733.4 674.8h0M734.1 680.1h0M735.8 672.1h0M733.3 683.7h0M734.8 676.4h0M733.2 692.3h0M738.0 676.0h0M734.8 675.7h0M732.3 687.3h0M732.2 692.4h0M737.0 676.2h0M736.9 672.8h0M726.9 663.6h0M726.2 689.0h0M730.6 697.5h0M766.9 683.8h0M768.8 699.4h0M769.5 700.5h0M776.2 688.8h0M781.2 682.5h0M781.2 688.1h0M786.2 690.0h0M789.8 678.8h0M779.5 694.4h0M875.6 532.2h0M872.5 536.0h0M876.9 537.2h0M873.8 542.2h0M878.8 542.2h0M876.2 546.6h0M871.9 548.9h0M874.4 554.1h0M873.1 557.9h0M876.2 559.8h0M871.9 571.6h0M889.0 533.8h0M874.5 539.5h0M877.5 540.0h0M871.2 853.8h0M876.9 850.0h0M879.4 855.0h0M875.0 857.5h0M872.5 860.0h0M878.8 859.4h0M873.5 856.0h0" stroke="#4A8EC6" stroke-width="5.5" stroke-linecap="round" fill="none"/>
<path d="M654.2 671.3h0M651.1 680.1h0M651.1 669.9h0M656.6 670.8h0M652.9 679.6h0M650.2 683.3h0M650.4 677.5h0M651.8 669.0h0M654.8 674.3h0M653.1 674.2h0M654.8 667.1h0M651.2 680.4h0M656.0 676.3h0M658.4 677.7h0M658.4 667.9h0M657.1 683.3h0M658.9 669.9h0M652.5 687.6h0M651.6 682.8h0M651.9 666.3h0M658.2 672.9h0M657.7 665.3h0M653.4 681.1h0M656.5 686.1h0M654.6 682.7h0M654.5 680.8h0M651.0 661.2h0M648.0 696.0h0M649.0 700.0h0M654.5 694.0h0M647.5 681.5h0M682.4 608.5h0M683.6 615.4h0M681.8 618.5h0M681.8 622.2h0M684.2 626.0h0M689.2 624.1h0M681.1 629.8h0M680.5 633.5h0M682.4 631.0h0M681.8 637.9h0M683.0 621.0h0M870.4 539.1h0" stroke="#4AA66F" stroke-width="5.5" stroke-linecap="round" fill="none"/>
<path d="M652.8 671.9h0M650.5 684.4h0" stroke="#7BC24B" stroke-width="5.5" stroke-linecap="round" fill="none"/>
<rect x="614.5" y="532.45" width="327.54999999999995" height="327.75" fill="none" stroke="#000" stroke-width="1.25"/>
<line x1="614.50" y1="532.45" x2="614.50" y2="523.85" stroke="#000" stroke-width="1.05"/>
<line x1="614.50" y1="860.20" x2="614.50" y2="868.80" stroke="#000" stroke-width="1.05"/>
<text x="614.50" y="890.30" font-size="15.3" text-anchor="middle" fill="#000">20/06</text>
<line x1="661.29" y1="532.45" x2="661.29" y2="523.85" stroke="#000" stroke-width="1.05"/>
<line x1="661.29" y1="860.20" x2="661.29" y2="868.80" stroke="#000" stroke-width="1.05"/>
<text x="661.29" y="890.30" font-size="15.3" text-anchor="middle" fill="#000">21/06</text>
<line x1="708.09" y1="532.45" x2="708.09" y2="523.85" stroke="#000" stroke-width="1.05"/>
<line x1="708.09" y1="860.20" x2="708.09" y2="868.80" stroke="#000" stroke-width="1.05"/>
<text x="708.09" y="890.30" font-size="15.3" text-anchor="middle" fill="#000">22/06</text>
<line x1="754.88" y1="532.45" x2="754.88" y2="523.85" stroke="#000" stroke-width="1.05"/>
<line x1="754.88" y1="860.20" x2="754.88" y2="868.80" stroke="#000" stroke-width="1.05"/>
<text x="754.88" y="890.30" font-size="15.3" text-anchor="middle" fill="#000">23/06</text>
<line x1="801.67" y1="532.45" x2="801.67" y2="523.85" stroke="#000" stroke-width="1.05"/>
<line x1="801.67" y1="860.20" x2="801.67" y2="868.80" stroke="#000" stroke-width="1.05"/>
<text x="801.67" y="890.30" font-size="15.3" text-anchor="middle" fill="#000">24/06</text>
<line x1="848.46" y1="532.45" x2="848.46" y2="523.85" stroke="#000" stroke-width="1.05"/>
<line x1="848.46" y1="860.20" x2="848.46" y2="868.80" stroke="#000" stroke-width="1.05"/>
<text x="848.46" y="890.30" font-size="15.3" text-anchor="middle" fill="#000">25/06</text>
<line x1="895.26" y1="532.45" x2="895.26" y2="523.85" stroke="#000" stroke-width="1.05"/>
<line x1="895.26" y1="860.20" x2="895.26" y2="868.80" stroke="#000" stroke-width="1.05"/>
<text x="895.26" y="890.30" font-size="15.3" text-anchor="middle" fill="#000">26/06</text>
<line x1="942.05" y1="532.45" x2="942.05" y2="523.85" stroke="#000" stroke-width="1.05"/>
<line x1="942.05" y1="860.20" x2="942.05" y2="868.80" stroke="#000" stroke-width="1.05"/>
<text x="942.05" y="890.30" font-size="15.3" text-anchor="middle" fill="#000">27/06</text>
<text x="778.27" y="919.10" font-size="21.0" text-anchor="middle" fill="#000">Time (Day/UTC)</text>
<line x1="605.80" y1="860.20" x2="614.50" y2="860.20" stroke="#000" stroke-width="1.05"/>
<line x1="614.50" y1="860.20" x2="942.05" y2="860.20" stroke="#000" stroke-width="1.05"/>
<text x="595.60" y="865.50" font-size="15.0" text-anchor="end" fill="#000">North</text>
<line x1="605.80" y1="778.26" x2="614.50" y2="778.26" stroke="#000" stroke-width="1.05"/>
<line x1="614.50" y1="778.26" x2="942.05" y2="778.26" stroke="#000" stroke-width="1.05"/>
<text x="595.60" y="783.56" font-size="15.0" text-anchor="end" fill="#000">East</text>
<line x1="605.80" y1="696.33" x2="614.50" y2="696.33" stroke="#000" stroke-width="1.05"/>
<line x1="614.50" y1="696.33" x2="942.05" y2="696.33" stroke="#000" stroke-width="1.05"/>
<text x="595.60" y="701.62" font-size="15.0" text-anchor="end" fill="#000">South</text>
<line x1="605.80" y1="614.39" x2="614.50" y2="614.39" stroke="#000" stroke-width="1.05"/>
<line x1="614.50" y1="614.39" x2="942.05" y2="614.39" stroke="#000" stroke-width="1.05"/>
<text x="595.60" y="619.69" font-size="15.0" text-anchor="end" fill="#000">West</text>
<line x1="605.80" y1="532.45" x2="614.50" y2="532.45" stroke="#000" stroke-width="1.05"/>
<line x1="614.50" y1="532.45" x2="942.05" y2="532.45" stroke="#000" stroke-width="1.05"/>
<text x="595.60" y="537.75" font-size="15.0" text-anchor="end" fill="#000">North</text>
<line x1="942.05" y1="860.20" x2="950.65" y2="860.20" stroke="#000" stroke-width="1.05"/>
<line x1="942.05" y1="778.26" x2="950.65" y2="778.26" stroke="#000" stroke-width="1.05"/>
<line x1="942.05" y1="696.33" x2="950.65" y2="696.33" stroke="#000" stroke-width="1.05"/>
<line x1="942.05" y1="614.39" x2="950.65" y2="614.39" stroke="#000" stroke-width="1.05"/>
<line x1="942.05" y1="532.45" x2="950.65" y2="532.45" stroke="#000" stroke-width="1.05"/>
<text x="778.27" y="505.50" font-size="25.2" text-anchor="middle" fill="#000">Wind Direction</text>
<text x="540.70" y="696.00" font-size="21.2" text-anchor="middle" fill="#000" transform="rotate(-90 540.70 696.00)">Direction (Colored By Speed)</text>
<rect x="953.1" y="594.00" width="29.7" height="21.43" fill="#8E1419"/>
<text x="1007.60" y="610.12" font-size="16.5" text-anchor="middle" fill="#000">20+</text>
<rect x="953.1" y="614.43" width="29.7" height="21.43" fill="#B81C25"/>
<text x="1007.60" y="630.55" font-size="16.5" text-anchor="middle" fill="#000">18</text>
<rect x="953.1" y="634.86" width="29.7" height="21.43" fill="#DB3328"/>
<text x="1007.60" y="650.98" font-size="16.5" text-anchor="middle" fill="#000">16</text>
<rect x="953.1" y="655.30" width="29.7" height="21.43" fill="#F0652A"/>
<text x="1007.60" y="671.41" font-size="16.5" text-anchor="middle" fill="#000">14</text>
<rect x="953.1" y="675.73" width="29.7" height="21.43" fill="#F7A843"/>
<text x="1007.60" y="691.84" font-size="16.5" text-anchor="middle" fill="#000">12</text>
<rect x="953.1" y="696.16" width="29.7" height="21.43" fill="#E8E25B"/>
<text x="1007.60" y="712.27" font-size="16.5" text-anchor="middle" fill="#000">10</text>
<rect x="953.1" y="716.59" width="29.7" height="21.43" fill="#7BC24B"/>
<text x="1007.60" y="732.71" font-size="16.5" text-anchor="middle" fill="#000">8</text>
<rect x="953.1" y="737.02" width="29.7" height="21.43" fill="#4AA66F"/>
<text x="1007.60" y="753.14" font-size="16.5" text-anchor="middle" fill="#000">6</text>
<rect x="953.1" y="757.45" width="29.7" height="21.43" fill="#4A8EC6"/>
<text x="1007.60" y="773.57" font-size="16.5" text-anchor="middle" fill="#000">4</text>
<rect x="953.1" y="777.89" width="29.7" height="21.43" fill="#7DBAE4"/>
<text x="1007.60" y="794.00" font-size="16.5" text-anchor="middle" fill="#000">2</text>
<rect x="953.1" y="798.32" width="29.7" height="20.43" fill="#B7E2F8"/>
<text x="1007.60" y="814.43" font-size="16.5" text-anchor="middle" fill="#000">0</text>
<text x="1007.50" y="587.70" font-size="16.5" text-anchor="middle" fill="#000">mph</text>
<text x="28.40" y="935.40" font-size="16.93" text-anchor="start" fill="#000">Location: Croghan</text>
<text x="28.40" y="958.00" font-size="16.93" text-anchor="start" fill="#000">Station elevation: 418.948 m</text>
<text x="28.40" y="977.80" font-size="16.93" text-anchor="start" fill="#000">Station lat/lon: 43.975; -75.201</text>
<text x="28.40" y="997.70" font-size="16.93" text-anchor="start" fill="#000">Figure created on Sat, 2025-12-27, at 06:50 UTC</text>
<text x="28.40" y="1017.50" font-size="16.93" text-anchor="start" fill="#000">Most recent data timestamp: 2025/12/27 06:15:00</text>
<text x="973.60" y="952.80" font-size="19.7" text-anchor="end" fill="#000">Extremes For Past 7 Days</text>
<text x="974.40" y="978.20" font-size="19.85" text-anchor="end" fill="#000">(High/Low/Max Wind/Total Precipitation)</text>
<text x="973.90" y="1005.50" font-size="19.7" text-anchor="end" fill="#BF1B26" font-weight="bold">32.5/-5/8.9/-999</text>
</svg></body></html>
